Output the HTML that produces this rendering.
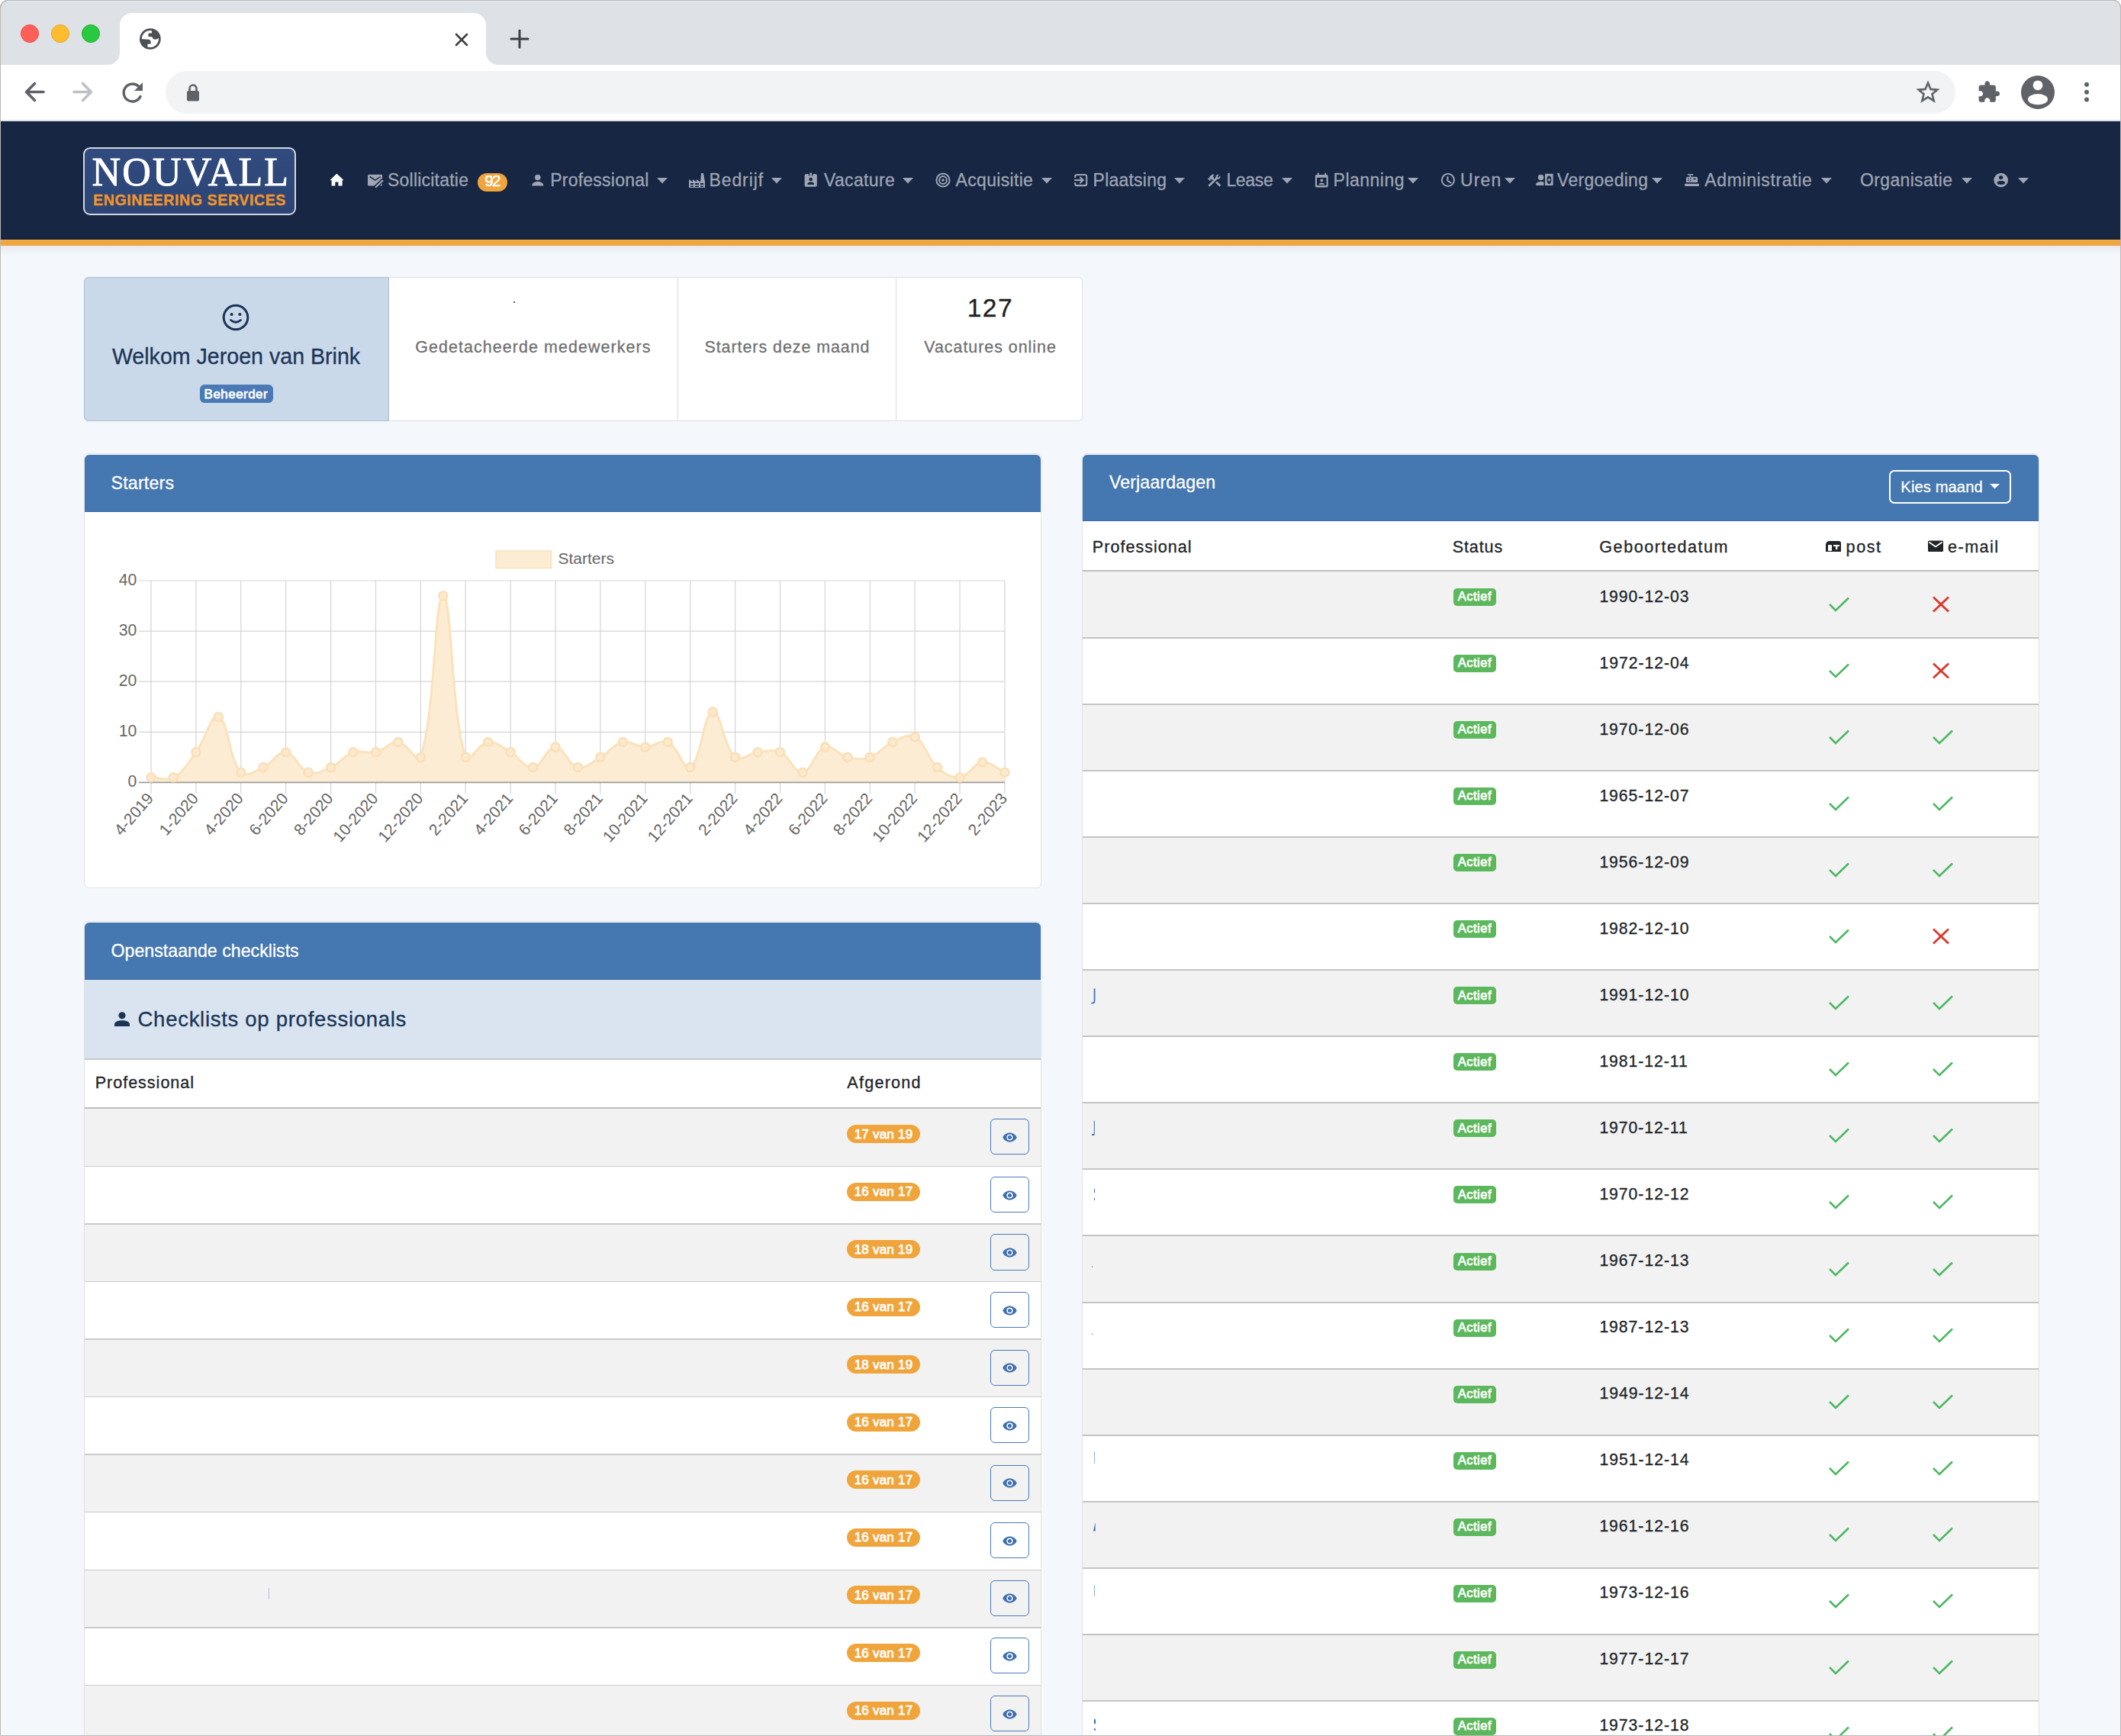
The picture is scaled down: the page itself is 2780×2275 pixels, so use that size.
<!DOCTYPE html>
<html><head><meta charset="utf-8"><title>Nouvall</title>
<style>
html,body{margin:0;padding:0;background:#fff;}
body{width:2780px;height:2275px;position:relative;overflow:hidden;font-family:"Liberation Sans",Arial,sans-serif;}
.r{position:absolute;display:block;}
.t{position:absolute;white-space:nowrap;line-height:1;-webkit-text-stroke:0.3px currentColor;}
svg.r{overflow:visible;}
</style></head><body>
<div class="r" style="left:0;top:0;width:2780px;height:2275px;background:#f4f7fb;border-radius:10px 10px 0 0;overflow:hidden;box-shadow:inset 0 0 0 1px #b9b9b9;">
</div>
<div class="r" style="left:0px;top:0px;width:2780px;height:85px;background:#dee1e6;border-radius:10px 10px 0 0;box-shadow:inset 1px 1px 0 #b9b9b9, inset -1px 0 0 #b9b9b9;"></div>
<div class="r" style="left:9px;top:1px;width:2762px;height:1px;background:#eceef2;"></div>
<svg class="r" style="left:26px;top:31px;" width="26" height="26" viewBox="0 0 26 26"><circle cx="13" cy="13" r="11.6" fill="#ff5f57" stroke="#e2463f" stroke-width="0.8"/></svg>
<svg class="r" style="left:66px;top:31px;" width="26" height="26" viewBox="0 0 26 26"><circle cx="13" cy="13" r="11.6" fill="#febc2e" stroke="#e1a116" stroke-width="0.8"/></svg>
<svg class="r" style="left:106px;top:31px;" width="26" height="26" viewBox="0 0 26 26"><circle cx="13" cy="13" r="11.6" fill="#28c840" stroke="#1aab29" stroke-width="0.8"/></svg>
<div class="r" style="left:157px;top:17px;width:480px;height:68px;background:#fff;border-radius:16px 16px 0 0;"></div>
<div class="r" style="left:141px;top:69px;width:16px;height:16px;background:radial-gradient(circle at 0 0, #dee1e6 15.5px, #fff 16.5px);"></div>
<div class="r" style="left:637px;top:69px;width:16px;height:16px;background:radial-gradient(circle at 100% 0, #dee1e6 15.5px, #fff 16.5px);"></div>
<svg class="r" style="left:183px;top:37px;" width="28" height="28" viewBox="0 0 28 28"><defs><clipPath id="gc"><circle cx="13.9" cy="14" r="13.8"/></clipPath></defs><circle cx="13.9" cy="14" r="13.8" fill="#4d5055"/><circle cx="13.9" cy="14" r="11.05" fill="#fff"/><g clip-path="url(#gc)" fill="#4d5055"><path d="M15.95,0 L15.95,5.9 Q15.95,6.5 15.2,6.5 L12.9,6.5 Q11.4,6.6 11.4,8.1 L11.4,11.1 L15.6,11.3 Q16.9,11.5 17.1,13 Q17.6,14.9 20.5,14.8 Q23,14.7 25.6,12.2 L28,0 Z"/><path d="M0,14.05 L12.1,14.8 Q14.7,15.3 14.7,17.9 L14.7,20.6 L10.4,20.8 L10.4,28 L0,28 Z"/></g></svg>
<svg class="r" style="left:596px;top:43px;" width="18" height="18" viewBox="0 0 18 18"><path d="M2,2 L16,16 M16,2 L2,16" stroke="#3c4043" stroke-width="2.6" stroke-linecap="round"/></svg>
<svg class="r" style="left:668px;top:38px;" width="26" height="26" viewBox="0 0 26 26"><path d="M13,2 V24 M2,13 H24" stroke="#3c4043" stroke-width="3" stroke-linecap="round"/></svg>
<div class="r" style="left:0px;top:85px;width:2780px;height:72px;background:#fff;box-shadow:inset 1px 0 0 #b9b9b9, inset -1px 0 0 #b9b9b9;"></div>
<div class="r" style="left:0px;top:157px;width:2780px;height:1px;background:#dcdde1;"></div>
<div class="r" style="left:0px;top:158px;width:2780px;height:1px;background:#e6e7ea;"></div>
<svg class="r" style="left:31px;top:107px;" width="28" height="28" viewBox="0 0 28 28"><path d="M26,13.5 H4 M14.5,2.5 L3.5,13.5 L14.5,24.5" fill="none" stroke="#5f6368" stroke-width="3.6" stroke-linecap="round" stroke-linejoin="round"/></svg>
<svg class="r" style="left:95px;top:107px;" width="28" height="28" viewBox="0 0 28 28"><path d="M2,13.5 H24 M13.5,2.5 L24.5,13.5 L13.5,24.5" fill="none" stroke="#bdc1c6" stroke-width="3.6" stroke-linecap="round" stroke-linejoin="round"/></svg>
<svg class="r" style="left:158px;top:106px;" width="32" height="30" viewBox="0 0 32 30"><path d="M26,20.5 A11.5,11.5 0 1 1 24,7.5" fill="none" stroke="#5f6368" stroke-width="3.4" stroke-linecap="round"/><path d="M29,2 V13 H18Z" fill="#5f6368"/></svg>
<div class="r" style="left:217px;top:93px;width:2346px;height:56px;background:#f1f3f4;border-radius:28px;"></div>
<svg class="r" style="left:244px;top:109px;" width="18" height="25" viewBox="0 0 18 25"><path d="M4.5,11 V7 A4.5,4.5 0 0 1 13.5,7 V11" fill="none" stroke="#5f6368" stroke-width="2.6"/><rect x="1" y="10" width="16" height="13.5" rx="1.8" fill="#5f6368"/></svg>
<svg class="r" style="left:2512px;top:106px;" width="30" height="30" viewBox="0 0 30 30"><path d="M15,2.6 L18.5,10.9 L27.3,11.6 L20.5,17.3 L22.7,26.2 L15,21.4 L7.3,26.2 L9.5,17.3 L2.7,11.6 L11.5,10.9Z" fill="none" stroke="#5f6368" stroke-width="2.6" stroke-linejoin="miter"/></svg>
<svg class="r" style="left:2591.3px;top:104.9px;" width="32" height="32" viewBox="0 0 32 32"><path transform="scale(1.31)" d="M20.5 11H19V7c0-1.1-.9-2-2-2h-4V3.5C13 2.12 11.88 1 10.5 1S8 2.12 8 3.5V5H4c-1.1 0-1.99.9-1.99 2v3.8H3.5c1.49 0 2.7 1.21 2.7 2.7s-1.21 2.7-2.7 2.7H2V20c0 1.1.9 2 2 2h3.8v-1.5c0-1.49 1.21-2.7 2.7-2.7 1.49 0 2.7 1.21 2.7 2.7V22H17c1.1 0 2-.9 2-2v-4h1.5c1.38 0 2.5-1.12 2.5-2.5S21.88 11 20.5 11z" fill="#5f6368"/></svg>
<svg class="r" style="left:2649px;top:99px;" width="44" height="44" viewBox="0 0 44 44"><circle cx="22" cy="22" r="22" fill="#5f6368"/><circle cx="22" cy="12.8" r="6.4" fill="#fff"/><ellipse cx="22" cy="31.2" rx="13" ry="7.1" fill="#fff"/></svg>
<svg class="r" style="left:2730px;top:105px;" width="10" height="32" viewBox="0 0 10 32"><circle cx="5" cy="5.8" r="3" fill="#5f6368"/><circle cx="5" cy="15.7" r="3" fill="#5f6368"/><circle cx="5" cy="25.6" r="3" fill="#5f6368"/></svg>
<div class="r" style="left:0px;top:159px;width:2780px;height:155px;background:#172642;"></div>
<div class="r" style="left:0px;top:159px;width:2780px;height:1px;background:#0e1c39;"></div>
<div class="r" style="left:0px;top:313px;width:2780px;height:1px;background:#0f1d38;"></div>
<div class="r" style="left:0px;top:314px;width:2780px;height:8px;background:linear-gradient(#f8ad40,#f0a63f 30%,#f0a63f 75%,#ee9f35);"></div>
<div class="r" style="left:0px;top:322px;width:2780px;height:12px;background:linear-gradient(rgba(40,50,70,0.07),rgba(40,50,70,0));"></div>
<div class="r" style="left:109px;top:193px;width:279px;height:89px;background:linear-gradient(#314b80,#2c4575);border:2px solid #d3d7df;border-radius:9px;box-sizing:border-box;"></div>
<div class="t" style="left:120.44px;top:200.05px;font-size:52px;color:#ffffff;font-weight:400;font-family:'Liberation Serif', 'Times New Roman', serif;letter-spacing:2.178px;-webkit-text-stroke:0.9px #fff;">NOUVALL</div>
<div class="t" style="left:122.01px;top:252.50px;font-size:19.6px;color:#f3952b;font-weight:700;font-family:'Liberation Sans', Arial, sans-serif;letter-spacing:0.580px;">ENGINEERING SERVICES</div>
<svg class="r" style="left:432px;top:227px;" width="20" height="18" viewBox="0 0 20 18"><path d="M0.3,9.3 L9.4,0.6 L18.6,9.3 H16.6 V16.6 H11.4 V11.4 H7.4 V16.6 H2.6 V9.3Z" fill="#fff"/></svg>
<svg class="r" style="left:481px;top:228px;" width="22" height="19" viewBox="0 0 22 19"><rect x="1" y="0.7" width="19.1" height="14.9" rx="1.6" fill="#9ea5b4"/><path d="M3.6,3.5 L10.8,8.2 L17.8,3.5" fill="none" stroke="#172642" stroke-width="1.5"/><path d="M11.5,17.2 L20.5,8.6" stroke="#172642" stroke-width="5.2" stroke-linecap="round"/><path d="M11.8,17 L20.3,8.9" stroke="#9ea5b4" stroke-width="2.4" stroke-linecap="round"/></svg>
<div class="t" style="left:507.96px;top:225.02px;font-size:23.0px;color:#9ea5b4;font-weight:400;font-family:'Liberation Sans', Arial, sans-serif;letter-spacing:0.227px;">Sollicitatie</div>
<div class="r" style="left:626px;top:226.5px;width:39px;height:24.0px;background:#f0a53c;border-radius:12px;"></div>
<div class="t" style="left:635.16px;top:227.24px;font-size:20.5px;color:#fff;font-weight:400;font-family:'Liberation Sans', Arial, sans-serif;letter-spacing:-1.628px;-webkit-text-stroke:0.5px #fff;">92</div>
<svg class="r" style="left:696px;top:228px;" width="18" height="17" viewBox="0 0 18 17"><circle cx="8.8" cy="4.5" r="3.8" fill="#9ea5b4"/><path d="M1.2,15.4 C1.2,11.6 5,10 8.8,10 C12.6,10 16.4,11.6 16.4,15.4Z" fill="#9ea5b4"/></svg>
<div class="t" style="left:721.31px;top:225.02px;font-size:23.0px;color:#9ea5b4;font-weight:400;font-family:'Liberation Sans', Arial, sans-serif;letter-spacing:0.221px;">Professional</div>
<svg class="r" style="left:861px;top:233px;" width="14" height="8" viewBox="0 0 14 8"><path d="M0,0 H14 L7,7.5Z" fill="#9ea5b4"/></svg>
<svg class="r" style="left:903px;top:227px;" width="21" height="19" viewBox="0 0 21 19"><path d="M0,19 V8 L5,11.5 V8 L10,11.5 V8 L15,11.5 L16,0 H19 L21,11.5 V19Z M2,13 V15 H6 V13Z M8,13 V15 H13 V13Z M15,13 V15 H19 V13Z M2,16.5 V18 H6 V16.5Z M8,16.5 V18 H13 V16.5Z M15,16.5 V18 H19 V16.5Z" fill="#9ea5b4" fill-rule="evenodd"/></svg>
<div class="t" style="left:929.51px;top:225.02px;font-size:23.0px;color:#9ea5b4;font-weight:400;font-family:'Liberation Sans', Arial, sans-serif;letter-spacing:0.889px;">Bedrijf</div>
<svg class="r" style="left:1010.5px;top:233px;" width="14" height="8" viewBox="0 0 14 8"><path d="M0,0 H14 L7,7.5Z" fill="#9ea5b4"/></svg>
<svg class="r" style="left:1054px;top:226px;" width="19" height="20" viewBox="0 0 19 20"><path d="M2.6,2 H5.8 V4.2 H11.6 V2 H14.8 A2,2 0 0 1 16.8,4 V16.8 A2,2 0 0 1 14.8,18.8 H2.6 A2,2 0 0 1 0.6,16.8 V4 A2,2 0 0 1 2.6,2Z" fill="#9ea5b4"/><rect x="7.3" y="0.4" width="2.8" height="3.6" rx="0.6" fill="#9ea5b4"/><circle cx="8.7" cy="9" r="2.3" fill="#172642"/><path d="M4.5,16 V15 C4.5,13.1 7.2,12.5 8.7,12.5 C10.2,12.5 12.9,13.1 12.9,15 V16Z" fill="#172642"/></svg>
<div class="t" style="left:1079.91px;top:225.02px;font-size:23.0px;color:#9ea5b4;font-weight:400;font-family:'Liberation Sans', Arial, sans-serif;letter-spacing:0.366px;">Vacature</div>
<svg class="r" style="left:1183px;top:233px;" width="14" height="8" viewBox="0 0 14 8"><path d="M0,0 H14 L7,7.5Z" fill="#9ea5b4"/></svg>
<svg class="r" style="left:1226px;top:226px;" width="20" height="20" viewBox="0 0 20 20"><circle cx="10" cy="10" r="8.6" fill="none" stroke="#9ea5b4" stroke-width="2"/><circle cx="10" cy="10" r="4.9" fill="none" stroke="#9ea5b4" stroke-width="2"/><circle cx="10" cy="10" r="1.8" fill="#9ea5b4"/></svg>
<div class="t" style="left:1252.55px;top:225.02px;font-size:23.0px;color:#9ea5b4;font-weight:400;font-family:'Liberation Sans', Arial, sans-serif;letter-spacing:0.324px;">Acquisitie</div>
<svg class="r" style="left:1364.5px;top:233px;" width="14" height="8" viewBox="0 0 14 8"><path d="M0,0 H14 L7,7.5Z" fill="#9ea5b4"/></svg>
<svg class="r" style="left:1407px;top:227px;" width="19" height="19" viewBox="0 0 19 19"><path d="M2.15,6.1 V4.5 Q2.15,2.05 4.6,2.05 H14.8 Q17.25,2.05 17.25,4.5 V13.7 Q17.25,16.15 14.8,16.15 H4.6 Q2.15,16.15 2.15,13.7 V12.1" fill="none" stroke="#9ea5b4" stroke-width="2.1"/><path d="M1.1,9.05 H12" fill="none" stroke="#9ea5b4" stroke-width="2.1"/><path d="M9,5.6 L12.6,9.05 L9,12.5" fill="none" stroke="#9ea5b4" stroke-width="2.2" stroke-linecap="round"/></svg>
<div class="t" style="left:1432.61px;top:225.02px;font-size:23.0px;color:#9ea5b4;font-weight:400;font-family:'Liberation Sans', Arial, sans-serif;letter-spacing:0.217px;">Plaatsing</div>
<svg class="r" style="left:1539px;top:233px;" width="14" height="8" viewBox="0 0 14 8"><path d="M0,0 H14 L7,7.5Z" fill="#9ea5b4"/></svg>
<svg class="r" style="left:1580.8px;top:225.7px;" width="22" height="22" viewBox="0 0 22 22"><path transform="scale(0.88)" d="M13.78 15.3L19.78 21.3L21.89 19.14L15.89 13.14L13.78 15.3M17.5 10.1C17.11 10.1 16.69 10.05 16.36 9.91L4.97 21.25L2.86 19.14L10.27 11.74L8.5 9.96L7.78 10.66L6.33 9.25V12.11L5.63 12.81L2.11 9.25L2.81 8.55H5.62L4.22 7.14L7.78 3.58C8.95 2.41 10.83 2.41 12 3.58L9.89 5.74L11.3 7.14L10.59 7.850L12.38 9.63L14.2 7.75C14.06 7.42 14 7 14 6.63C14 4.66 15.56 3.11 17.5 3.11C18.09 3.11 18.61 3.250 19.08 3.53L16.41 6.2L17.91 7.7L20.58 5.03C20.86 5.5 21 6 21 6.63C21 8.55 19.45 10.1 17.5 10.1Z" fill="#9ea5b4"/></svg>
<div class="t" style="left:1607.41px;top:225.02px;font-size:23.0px;color:#9ea5b4;font-weight:400;font-family:'Liberation Sans', Arial, sans-serif;letter-spacing:-0.338px;">Lease</div>
<svg class="r" style="left:1679.5px;top:233px;" width="14" height="8" viewBox="0 0 14 8"><path d="M0,0 H14 L7,7.5Z" fill="#9ea5b4"/></svg>
<svg class="r" style="left:1722px;top:225px;" width="21" height="22" viewBox="0 0 21 22"><path d="M3.9,4 H16.7 A2,2 0 0 1 18.7,6 V18.4 A2,2 0 0 1 16.7,20.4 H3.9 A2,2 0 0 1 1.9,18.4 V6 A2,2 0 0 1 3.9,4Z M4,7.8 V18.1 H16.6 V7.8Z" fill="#9ea5b4" fill-rule="evenodd"/><rect x="4.8" y="1.4" width="1.9" height="3.5" rx="0.9" fill="#9ea5b4"/><rect x="14.2" y="1.4" width="1.9" height="3.5" rx="0.9" fill="#9ea5b4"/><circle cx="10.3" cy="11.4" r="1.9" fill="#9ea5b4"/><path d="M6.6,17 C6.6,15.3 8.7,14.8 10.3,14.8 C11.9,14.8 14.1,15.3 14.1,17Z" fill="#9ea5b4"/></svg>
<div class="t" style="left:1747.61px;top:225.02px;font-size:23.0px;color:#9ea5b4;font-weight:400;font-family:'Liberation Sans', Arial, sans-serif;letter-spacing:0.477px;">Planning</div>
<svg class="r" style="left:1844.5px;top:233px;" width="14" height="8" viewBox="0 0 14 8"><path d="M0,0 H14 L7,7.5Z" fill="#9ea5b4"/></svg>
<svg class="r" style="left:1887px;top:226px;" width="22" height="22" viewBox="0 0 22 22"><circle cx="10.9" cy="9.9" r="8.1" fill="none" stroke="#9ea5b4" stroke-width="2"/><path d="M10.4,5.9 V11 L14.5,13.4" fill="none" stroke="#9ea5b4" stroke-width="2" stroke-linecap="round" stroke-linejoin="round"/></svg>
<div class="t" style="left:1913.93px;top:225.02px;font-size:23.0px;color:#9ea5b4;font-weight:400;font-family:'Liberation Sans', Arial, sans-serif;letter-spacing:1.134px;">Uren</div>
<svg class="r" style="left:1972px;top:233px;" width="14" height="8" viewBox="0 0 14 8"><path d="M0,0 H14 L7,7.5Z" fill="#9ea5b4"/></svg>
<svg class="r" style="left:2012px;top:226px;" width="25" height="19" viewBox="0 0 25 19"><circle cx="7.6" cy="6.5" r="3.8" fill="#9ea5b4"/><path d="M1.2,17.1 V15.6 C1.2,13.2 4.8,12.1 7.6,12.1 C9.3,12.1 11.5,12.3 11.5,13 V17.1Z" fill="#9ea5b4"/><path d="M13.1,1.8 H23.6 V17.1 H13.1Z M18.4,4.2 A3,5.5 0 1 0 18.4,15.2 A3,5.5 0 1 0 18.4,4.2Z" fill="#9ea5b4" fill-rule="evenodd"/><path d="M18.4,7.4 L20.4,9.7 L18.4,12 L16.4,9.7Z" fill="#9ea5b4"/></svg>
<div class="t" style="left:2041.11px;top:225.02px;font-size:23.0px;color:#9ea5b4;font-weight:400;font-family:'Liberation Sans', Arial, sans-serif;letter-spacing:0.276px;">Vergoeding</div>
<svg class="r" style="left:2165px;top:233px;" width="14" height="8" viewBox="0 0 14 8"><path d="M0,0 H14 L7,7.5Z" fill="#9ea5b4"/></svg>
<svg class="r" style="left:2207px;top:226px;" width="21" height="19" viewBox="0 0 21 19"><rect x="1.2" y="14.7" width="18.7" height="3.4" rx="0.5" fill="#9ea5b4"/><path d="M3,12.9 V7.7 Q3,5.7 5,5.7 H16.1 Q18.1,5.7 18.1,7.7 V12.9Z" fill="#9ea5b4"/><rect x="5" y="2" width="7.5" height="1.7" rx="0.8" fill="#9ea5b4"/><path d="M7.3,5.9 L8.5,3.4 L9.7,5.9Z" fill="#9ea5b4"/><g fill="#2a3752"><rect x="5.2" y="7.2" width="1.6" height="1.4"/><rect x="8.2" y="7.2" width="1.6" height="1.4"/><rect x="5.2" y="9.9" width="1.6" height="1.6"/><rect x="8.2" y="9.9" width="1.6" height="1.6"/></g><ellipse cx="14" cy="8.6" rx="2" ry="0.8" fill="#172642"/></svg>
<div class="t" style="left:2234.25px;top:225.02px;font-size:23.0px;color:#9ea5b4;font-weight:400;font-family:'Liberation Sans', Arial, sans-serif;letter-spacing:0.626px;">Administratie</div>
<svg class="r" style="left:2386.5px;top:233px;" width="14" height="8" viewBox="0 0 14 8"><path d="M0,0 H14 L7,7.5Z" fill="#9ea5b4"/></svg>
<div class="t" style="left:2438.12px;top:225.02px;font-size:23.0px;color:#9ea5b4;font-weight:400;font-family:'Liberation Sans', Arial, sans-serif;letter-spacing:0.327px;">Organisatie</div>
<svg class="r" style="left:2570.5px;top:233px;" width="14" height="8" viewBox="0 0 14 8"><path d="M0,0 H14 L7,7.5Z" fill="#9ea5b4"/></svg>
<svg class="r" style="left:2612px;top:226px;" width="21" height="21" viewBox="0 0 21 21"><circle cx="10.7" cy="10" r="9.3" fill="#9ea5b4"/><circle cx="10.6" cy="6.5" r="2.6" fill="#172642"/><ellipse cx="10.8" cy="13.6" rx="5.2" ry="2.5" fill="#172642"/></svg>
<svg class="r" style="left:2645px;top:233px;" width="14" height="8" viewBox="0 0 14 8"><path d="M0,0 H14 L7,7.5Z" fill="#9ea5b4"/></svg>
<div class="r" style="left:110px;top:363px;width:1309px;height:189px;background:#fff;border:1px solid #dcdfe3;border-radius:6px;box-sizing:border-box;"></div>
<div class="r" style="left:110px;top:363px;width:400px;height:189px;background:#cad9e9;border:1px solid #adbfd5;border-radius:6px 0 0 6px;box-sizing:border-box;"></div>
<div class="r" style="left:888px;top:364px;width:1px;height:187px;background:#dcdcdc;"></div>
<div class="r" style="left:1174px;top:364px;width:1px;height:187px;background:#dcdcdc;"></div>
<svg class="r" style="left:291px;top:398px;" width="36" height="36" viewBox="0 0 36 36"><circle cx="18" cy="18" r="15.8" fill="none" stroke="#1b3558" stroke-width="3"/><circle cx="12.6" cy="14" r="2.1" fill="#1b3558"/><circle cx="23.4" cy="14" r="2.1" fill="#1b3558"/><path d="M11.5,21.5 Q18,27 24.5,21.5" fill="none" stroke="#1b3558" stroke-width="2.8" stroke-linecap="round"/></svg>
<div class="t" style="left:146.89px;top:452.78px;font-size:28.6px;color:#1c3557;font-weight:400;font-family:'Liberation Sans', Arial, sans-serif;letter-spacing:0.001px;">Welkom Jeroen van Brink</div>
<div class="r" style="left:261.5px;top:503.5px;width:96.5px;height:24.0px;background:#4a79b5;border-radius:6px;"></div>
<div class="t" style="left:267.61px;top:507.50px;font-size:17px;color:#fff;font-weight:400;font-family:'Liberation Sans', Arial, sans-serif;letter-spacing:0.459px;-webkit-text-stroke:0.75px #fff;">Beheerder</div>
<div class="r" style="left:672.5px;top:394.5px;width:2.5px;height:2.5px;background:#222;border-radius:50%;"></div>
<div class="t" style="left:544.23px;top:444.57px;font-size:21.4px;color:#717171;font-weight:400;font-family:'Liberation Sans', Arial, sans-serif;letter-spacing:1.097px;">Gedetacheerde medewerkers</div>
<div class="t" style="left:923.44px;top:444.57px;font-size:21.4px;color:#717171;font-weight:400;font-family:'Liberation Sans', Arial, sans-serif;letter-spacing:0.971px;">Starters deze maand</div>
<div class="t" style="left:1267.65px;top:386.54px;font-size:33.6px;color:#212121;font-weight:400;font-family:'Liberation Sans', Arial, sans-serif;letter-spacing:1.444px;">127</div>
<div class="t" style="left:1211.31px;top:444.57px;font-size:21.4px;color:#717171;font-weight:400;font-family:'Liberation Sans', Arial, sans-serif;letter-spacing:0.987px;">Vacatures online</div>
<div class="r" style="left:110px;top:594px;width:1255px;height:570px;background:#fff;border:1px solid #dfe2e6;border-radius:7px;box-sizing:border-box;"></div>
<div class="r" style="left:111px;top:596px;width:1253px;height:75px;background:#4577b1;border-radius:6px 6px 0 0;border-bottom:1px solid #3c6aa3;box-sizing:border-box;"></div>
<div class="t" style="left:145.46px;top:621.85px;font-size:23.2px;color:#fff;font-weight:400;font-family:'Liberation Sans', Arial, sans-serif;letter-spacing:0.208px;">Starters</div>
<svg class="r" style="left:0px;top:0px;" width="1400" height="1160" viewBox="0 0 1400 1160"><line x1="182.0" y1="959.3" x2="1317.0" y2="959.3" stroke="#d5d5d5" stroke-width="1.2"/><line x1="182.0" y1="893.2" x2="1317.0" y2="893.2" stroke="#d5d5d5" stroke-width="1.2"/><line x1="182.0" y1="827.1" x2="1317.0" y2="827.1" stroke="#d5d5d5" stroke-width="1.2"/><line x1="182.0" y1="761.0" x2="1317.0" y2="761.0" stroke="#d5d5d5" stroke-width="1.2"/><line x1="198.0" y1="761.0" x2="198.0" y2="1025.4" stroke="#d2d2d2" stroke-width="1.2"/><line x1="198.0" y1="1025.4" x2="198.0" y2="1040.4" stroke="#d5d5d5" stroke-width="1.2"/><line x1="256.9" y1="761.0" x2="256.9" y2="1025.4" stroke="#d5d5d5" stroke-width="1.2"/><line x1="256.9" y1="1025.4" x2="256.9" y2="1040.4" stroke="#d5d5d5" stroke-width="1.2"/><line x1="315.8" y1="761.0" x2="315.8" y2="1025.4" stroke="#d5d5d5" stroke-width="1.2"/><line x1="315.8" y1="1025.4" x2="315.8" y2="1040.4" stroke="#d5d5d5" stroke-width="1.2"/><line x1="374.7" y1="761.0" x2="374.7" y2="1025.4" stroke="#d5d5d5" stroke-width="1.2"/><line x1="374.7" y1="1025.4" x2="374.7" y2="1040.4" stroke="#d5d5d5" stroke-width="1.2"/><line x1="433.6" y1="761.0" x2="433.6" y2="1025.4" stroke="#d5d5d5" stroke-width="1.2"/><line x1="433.6" y1="1025.4" x2="433.6" y2="1040.4" stroke="#d5d5d5" stroke-width="1.2"/><line x1="492.5" y1="761.0" x2="492.5" y2="1025.4" stroke="#d5d5d5" stroke-width="1.2"/><line x1="492.5" y1="1025.4" x2="492.5" y2="1040.4" stroke="#d5d5d5" stroke-width="1.2"/><line x1="551.4" y1="761.0" x2="551.4" y2="1025.4" stroke="#d5d5d5" stroke-width="1.2"/><line x1="551.4" y1="1025.4" x2="551.4" y2="1040.4" stroke="#d5d5d5" stroke-width="1.2"/><line x1="610.3" y1="761.0" x2="610.3" y2="1025.4" stroke="#d5d5d5" stroke-width="1.2"/><line x1="610.3" y1="1025.4" x2="610.3" y2="1040.4" stroke="#d5d5d5" stroke-width="1.2"/><line x1="669.2" y1="761.0" x2="669.2" y2="1025.4" stroke="#d5d5d5" stroke-width="1.2"/><line x1="669.2" y1="1025.4" x2="669.2" y2="1040.4" stroke="#d5d5d5" stroke-width="1.2"/><line x1="728.1" y1="761.0" x2="728.1" y2="1025.4" stroke="#d5d5d5" stroke-width="1.2"/><line x1="728.1" y1="1025.4" x2="728.1" y2="1040.4" stroke="#d5d5d5" stroke-width="1.2"/><line x1="786.9" y1="761.0" x2="786.9" y2="1025.4" stroke="#d5d5d5" stroke-width="1.2"/><line x1="786.9" y1="1025.4" x2="786.9" y2="1040.4" stroke="#d5d5d5" stroke-width="1.2"/><line x1="845.8" y1="761.0" x2="845.8" y2="1025.4" stroke="#d5d5d5" stroke-width="1.2"/><line x1="845.8" y1="1025.4" x2="845.8" y2="1040.4" stroke="#d5d5d5" stroke-width="1.2"/><line x1="904.7" y1="761.0" x2="904.7" y2="1025.4" stroke="#d5d5d5" stroke-width="1.2"/><line x1="904.7" y1="1025.4" x2="904.7" y2="1040.4" stroke="#d5d5d5" stroke-width="1.2"/><line x1="963.6" y1="761.0" x2="963.6" y2="1025.4" stroke="#d5d5d5" stroke-width="1.2"/><line x1="963.6" y1="1025.4" x2="963.6" y2="1040.4" stroke="#d5d5d5" stroke-width="1.2"/><line x1="1022.5" y1="761.0" x2="1022.5" y2="1025.4" stroke="#d5d5d5" stroke-width="1.2"/><line x1="1022.5" y1="1025.4" x2="1022.5" y2="1040.4" stroke="#d5d5d5" stroke-width="1.2"/><line x1="1081.4" y1="761.0" x2="1081.4" y2="1025.4" stroke="#d5d5d5" stroke-width="1.2"/><line x1="1081.4" y1="1025.4" x2="1081.4" y2="1040.4" stroke="#d5d5d5" stroke-width="1.2"/><line x1="1140.3" y1="761.0" x2="1140.3" y2="1025.4" stroke="#d5d5d5" stroke-width="1.2"/><line x1="1140.3" y1="1025.4" x2="1140.3" y2="1040.4" stroke="#d5d5d5" stroke-width="1.2"/><line x1="1199.2" y1="761.0" x2="1199.2" y2="1025.4" stroke="#d5d5d5" stroke-width="1.2"/><line x1="1199.2" y1="1025.4" x2="1199.2" y2="1040.4" stroke="#d5d5d5" stroke-width="1.2"/><line x1="1258.1" y1="761.0" x2="1258.1" y2="1025.4" stroke="#d5d5d5" stroke-width="1.2"/><line x1="1258.1" y1="1025.4" x2="1258.1" y2="1040.4" stroke="#d5d5d5" stroke-width="1.2"/><line x1="1317.0" y1="761.0" x2="1317.0" y2="1025.4" stroke="#d5d5d5" stroke-width="1.2"/><line x1="1317.0" y1="1025.4" x2="1317.0" y2="1040.4" stroke="#d5d5d5" stroke-width="1.2"/><path d="M198.00,1018.79 C209.78,1018.79 218.04,1024.07 227.45,1018.79 C241.59,1010.85 246.37,999.91 256.89,985.74 C269.93,968.18 276.65,935.12 286.34,939.47 C300.21,945.69 298.78,993.09 315.79,1012.18 C322.33,1019.53 334.41,1010.43 345.24,1005.57 C357.97,999.85 363.54,984.49 374.68,985.74 C387.10,987.13 390.77,1007.68 404.13,1012.18 C414.32,1015.61 422.75,1010.43 433.58,1005.57 C446.31,999.85 450.15,990.08 463.03,985.74 C473.71,982.14 481.24,988.26 492.47,985.74 C504.79,982.97 510.70,971.26 521.92,972.52 C534.26,973.90 548.01,1003.28 551.37,992.35 C571.57,926.60 569.04,780.83 580.82,780.83 C592.59,780.83 590.06,926.60 610.26,992.35 C613.62,1003.28 627.37,973.90 639.71,972.52 C650.93,971.26 657.94,979.44 669.16,985.74 C681.50,992.66 687.47,1006.82 698.61,1005.57 C711.02,1004.18 716.27,979.13 728.05,979.13 C739.83,979.13 744.52,1002.66 757.50,1005.57 C768.08,1007.95 775.73,998.65 786.95,992.35 C799.29,985.43 803.66,975.38 816.39,972.52 C827.22,970.09 834.06,979.13 845.84,979.13 C857.62,979.13 865.74,968.23 875.29,972.52 C889.30,978.81 896.24,1011.29 904.74,1005.57 C919.80,995.43 921.42,935.72 934.18,932.86 C944.98,930.44 947.44,977.81 963.63,992.35 C970.99,998.96 981.16,987.08 993.08,985.74 C1004.71,984.43 1012.48,981.23 1022.53,985.74 C1036.03,991.80 1040.85,1013.43 1051.97,1012.18 C1064.41,1010.78 1067.80,983.72 1081.42,979.13 C1091.36,975.79 1098.55,989.58 1110.87,992.35 C1122.11,994.87 1129.63,995.95 1140.32,992.35 C1153.19,988.01 1157.03,978.24 1169.76,972.52 C1180.59,967.66 1190.28,960.90 1199.21,965.91 C1213.83,974.12 1214.41,992.78 1228.66,1005.57 C1237.97,1013.93 1246.89,1020.05 1258.11,1018.79 C1270.44,1017.41 1275.21,1000.34 1287.55,998.96 C1298.77,997.70 1305.22,1006.89 1317.00,1012.18 L1317.00,1025.40 L198.00,1025.40 Z" fill="#fcecd3"/><line x1="182.0" y1="1025.4" x2="1317.0" y2="1025.4" stroke="#9c9c9c" stroke-width="1.8"/><path d="M198.00,1018.79 C209.78,1018.79 218.04,1024.07 227.45,1018.79 C241.59,1010.85 246.37,999.91 256.89,985.74 C269.93,968.18 276.65,935.12 286.34,939.47 C300.21,945.69 298.78,993.09 315.79,1012.18 C322.33,1019.53 334.41,1010.43 345.24,1005.57 C357.97,999.85 363.54,984.49 374.68,985.74 C387.10,987.13 390.77,1007.68 404.13,1012.18 C414.32,1015.61 422.75,1010.43 433.58,1005.57 C446.31,999.85 450.15,990.08 463.03,985.74 C473.71,982.14 481.24,988.26 492.47,985.74 C504.79,982.97 510.70,971.26 521.92,972.52 C534.26,973.90 548.01,1003.28 551.37,992.35 C571.57,926.60 569.04,780.83 580.82,780.83 C592.59,780.83 590.06,926.60 610.26,992.35 C613.62,1003.28 627.37,973.90 639.71,972.52 C650.93,971.26 657.94,979.44 669.16,985.74 C681.50,992.66 687.47,1006.82 698.61,1005.57 C711.02,1004.18 716.27,979.13 728.05,979.13 C739.83,979.13 744.52,1002.66 757.50,1005.57 C768.08,1007.95 775.73,998.65 786.95,992.35 C799.29,985.43 803.66,975.38 816.39,972.52 C827.22,970.09 834.06,979.13 845.84,979.13 C857.62,979.13 865.74,968.23 875.29,972.52 C889.30,978.81 896.24,1011.29 904.74,1005.57 C919.80,995.43 921.42,935.72 934.18,932.86 C944.98,930.44 947.44,977.81 963.63,992.35 C970.99,998.96 981.16,987.08 993.08,985.74 C1004.71,984.43 1012.48,981.23 1022.53,985.74 C1036.03,991.80 1040.85,1013.43 1051.97,1012.18 C1064.41,1010.78 1067.80,983.72 1081.42,979.13 C1091.36,975.79 1098.55,989.58 1110.87,992.35 C1122.11,994.87 1129.63,995.95 1140.32,992.35 C1153.19,988.01 1157.03,978.24 1169.76,972.52 C1180.59,967.66 1190.28,960.90 1199.21,965.91 C1213.83,974.12 1214.41,992.78 1228.66,1005.57 C1237.97,1013.93 1246.89,1020.05 1258.11,1018.79 C1270.44,1017.41 1275.21,1000.34 1287.55,998.96 C1298.77,997.70 1305.22,1006.89 1317.00,1012.18" fill="none" stroke="#fbe2bb" stroke-width="3"/><circle cx="198.0" cy="1018.8" r="5.5" fill="#fcead0" stroke="#fbdfb6" stroke-width="2.6"/><circle cx="227.4" cy="1018.8" r="5.5" fill="#fcead0" stroke="#fbdfb6" stroke-width="2.6"/><circle cx="256.9" cy="985.7" r="5.5" fill="#fcead0" stroke="#fbdfb6" stroke-width="2.6"/><circle cx="286.3" cy="939.5" r="5.5" fill="#fcead0" stroke="#fbdfb6" stroke-width="2.6"/><circle cx="315.8" cy="1012.2" r="5.5" fill="#fcead0" stroke="#fbdfb6" stroke-width="2.6"/><circle cx="345.2" cy="1005.6" r="5.5" fill="#fcead0" stroke="#fbdfb6" stroke-width="2.6"/><circle cx="374.7" cy="985.7" r="5.5" fill="#fcead0" stroke="#fbdfb6" stroke-width="2.6"/><circle cx="404.1" cy="1012.2" r="5.5" fill="#fcead0" stroke="#fbdfb6" stroke-width="2.6"/><circle cx="433.6" cy="1005.6" r="5.5" fill="#fcead0" stroke="#fbdfb6" stroke-width="2.6"/><circle cx="463.0" cy="985.7" r="5.5" fill="#fcead0" stroke="#fbdfb6" stroke-width="2.6"/><circle cx="492.5" cy="985.7" r="5.5" fill="#fcead0" stroke="#fbdfb6" stroke-width="2.6"/><circle cx="521.9" cy="972.5" r="5.5" fill="#fcead0" stroke="#fbdfb6" stroke-width="2.6"/><circle cx="551.4" cy="992.4" r="5.5" fill="#fcead0" stroke="#fbdfb6" stroke-width="2.6"/><circle cx="580.8" cy="780.8" r="5.5" fill="#fcead0" stroke="#fbdfb6" stroke-width="2.6"/><circle cx="610.3" cy="992.4" r="5.5" fill="#fcead0" stroke="#fbdfb6" stroke-width="2.6"/><circle cx="639.7" cy="972.5" r="5.5" fill="#fcead0" stroke="#fbdfb6" stroke-width="2.6"/><circle cx="669.2" cy="985.7" r="5.5" fill="#fcead0" stroke="#fbdfb6" stroke-width="2.6"/><circle cx="698.6" cy="1005.6" r="5.5" fill="#fcead0" stroke="#fbdfb6" stroke-width="2.6"/><circle cx="728.1" cy="979.1" r="5.5" fill="#fcead0" stroke="#fbdfb6" stroke-width="2.6"/><circle cx="757.5" cy="1005.6" r="5.5" fill="#fcead0" stroke="#fbdfb6" stroke-width="2.6"/><circle cx="786.9" cy="992.4" r="5.5" fill="#fcead0" stroke="#fbdfb6" stroke-width="2.6"/><circle cx="816.4" cy="972.5" r="5.5" fill="#fcead0" stroke="#fbdfb6" stroke-width="2.6"/><circle cx="845.8" cy="979.1" r="5.5" fill="#fcead0" stroke="#fbdfb6" stroke-width="2.6"/><circle cx="875.3" cy="972.5" r="5.5" fill="#fcead0" stroke="#fbdfb6" stroke-width="2.6"/><circle cx="904.7" cy="1005.6" r="5.5" fill="#fcead0" stroke="#fbdfb6" stroke-width="2.6"/><circle cx="934.2" cy="932.9" r="5.5" fill="#fcead0" stroke="#fbdfb6" stroke-width="2.6"/><circle cx="963.6" cy="992.4" r="5.5" fill="#fcead0" stroke="#fbdfb6" stroke-width="2.6"/><circle cx="993.1" cy="985.7" r="5.5" fill="#fcead0" stroke="#fbdfb6" stroke-width="2.6"/><circle cx="1022.5" cy="985.7" r="5.5" fill="#fcead0" stroke="#fbdfb6" stroke-width="2.6"/><circle cx="1052.0" cy="1012.2" r="5.5" fill="#fcead0" stroke="#fbdfb6" stroke-width="2.6"/><circle cx="1081.4" cy="979.1" r="5.5" fill="#fcead0" stroke="#fbdfb6" stroke-width="2.6"/><circle cx="1110.9" cy="992.4" r="5.5" fill="#fcead0" stroke="#fbdfb6" stroke-width="2.6"/><circle cx="1140.3" cy="992.4" r="5.5" fill="#fcead0" stroke="#fbdfb6" stroke-width="2.6"/><circle cx="1169.8" cy="972.5" r="5.5" fill="#fcead0" stroke="#fbdfb6" stroke-width="2.6"/><circle cx="1199.2" cy="965.9" r="5.5" fill="#fcead0" stroke="#fbdfb6" stroke-width="2.6"/><circle cx="1228.7" cy="1005.6" r="5.5" fill="#fcead0" stroke="#fbdfb6" stroke-width="2.6"/><circle cx="1258.1" cy="1018.8" r="5.5" fill="#fcead0" stroke="#fbdfb6" stroke-width="2.6"/><circle cx="1287.6" cy="999.0" r="5.5" fill="#fcead0" stroke="#fbdfb6" stroke-width="2.6"/><circle cx="1317.0" cy="1012.2" r="5.5" fill="#fcead0" stroke="#fbdfb6" stroke-width="2.6"/><text x="179.4" y="1031.3" text-anchor="end" font-size="21.2" fill="#666" font-family="Liberation Sans, Arial, sans-serif">0</text><text x="179.4" y="965.2" text-anchor="end" font-size="21.2" fill="#666" font-family="Liberation Sans, Arial, sans-serif">10</text><text x="179.4" y="899.1" text-anchor="end" font-size="21.2" fill="#666" font-family="Liberation Sans, Arial, sans-serif">20</text><text x="179.4" y="833.0" text-anchor="end" font-size="21.2" fill="#666" font-family="Liberation Sans, Arial, sans-serif">30</text><text x="179.4" y="766.9" text-anchor="end" font-size="21.2" fill="#666" font-family="Liberation Sans, Arial, sans-serif">40</text><text transform="translate(196.5,1042) rotate(-49)" text-anchor="end" dominant-baseline="central" font-size="21" fill="#666" font-family="Liberation Sans, Arial, sans-serif">4-2019</text><text transform="translate(255.4,1042) rotate(-49)" text-anchor="end" dominant-baseline="central" font-size="21" fill="#666" font-family="Liberation Sans, Arial, sans-serif">1-2020</text><text transform="translate(314.3,1042) rotate(-49)" text-anchor="end" dominant-baseline="central" font-size="21" fill="#666" font-family="Liberation Sans, Arial, sans-serif">4-2020</text><text transform="translate(373.2,1042) rotate(-49)" text-anchor="end" dominant-baseline="central" font-size="21" fill="#666" font-family="Liberation Sans, Arial, sans-serif">6-2020</text><text transform="translate(432.1,1042) rotate(-49)" text-anchor="end" dominant-baseline="central" font-size="21" fill="#666" font-family="Liberation Sans, Arial, sans-serif">8-2020</text><text transform="translate(491.0,1042) rotate(-49)" text-anchor="end" dominant-baseline="central" font-size="21" fill="#666" font-family="Liberation Sans, Arial, sans-serif">10-2020</text><text transform="translate(549.9,1042) rotate(-49)" text-anchor="end" dominant-baseline="central" font-size="21" fill="#666" font-family="Liberation Sans, Arial, sans-serif">12-2020</text><text transform="translate(608.8,1042) rotate(-49)" text-anchor="end" dominant-baseline="central" font-size="21" fill="#666" font-family="Liberation Sans, Arial, sans-serif">2-2021</text><text transform="translate(667.7,1042) rotate(-49)" text-anchor="end" dominant-baseline="central" font-size="21" fill="#666" font-family="Liberation Sans, Arial, sans-serif">4-2021</text><text transform="translate(726.6,1042) rotate(-49)" text-anchor="end" dominant-baseline="central" font-size="21" fill="#666" font-family="Liberation Sans, Arial, sans-serif">6-2021</text><text transform="translate(785.4,1042) rotate(-49)" text-anchor="end" dominant-baseline="central" font-size="21" fill="#666" font-family="Liberation Sans, Arial, sans-serif">8-2021</text><text transform="translate(844.3,1042) rotate(-49)" text-anchor="end" dominant-baseline="central" font-size="21" fill="#666" font-family="Liberation Sans, Arial, sans-serif">10-2021</text><text transform="translate(903.2,1042) rotate(-49)" text-anchor="end" dominant-baseline="central" font-size="21" fill="#666" font-family="Liberation Sans, Arial, sans-serif">12-2021</text><text transform="translate(962.1,1042) rotate(-49)" text-anchor="end" dominant-baseline="central" font-size="21" fill="#666" font-family="Liberation Sans, Arial, sans-serif">2-2022</text><text transform="translate(1021.0,1042) rotate(-49)" text-anchor="end" dominant-baseline="central" font-size="21" fill="#666" font-family="Liberation Sans, Arial, sans-serif">4-2022</text><text transform="translate(1079.9,1042) rotate(-49)" text-anchor="end" dominant-baseline="central" font-size="21" fill="#666" font-family="Liberation Sans, Arial, sans-serif">6-2022</text><text transform="translate(1138.8,1042) rotate(-49)" text-anchor="end" dominant-baseline="central" font-size="21" fill="#666" font-family="Liberation Sans, Arial, sans-serif">8-2022</text><text transform="translate(1197.7,1042) rotate(-49)" text-anchor="end" dominant-baseline="central" font-size="21" fill="#666" font-family="Liberation Sans, Arial, sans-serif">10-2022</text><text transform="translate(1256.6,1042) rotate(-49)" text-anchor="end" dominant-baseline="central" font-size="21" fill="#666" font-family="Liberation Sans, Arial, sans-serif">12-2022</text><text transform="translate(1315.5,1042) rotate(-49)" text-anchor="end" dominant-baseline="central" font-size="21" fill="#666" font-family="Liberation Sans, Arial, sans-serif">2-2023</text><rect x="650" y="722" width="72.5" height="22.5" fill="#fcecd3" stroke="#fbe0b8" stroke-width="1.5"/><text x="731.5" y="738.7" font-size="21" fill="#666" font-family="Liberation Sans, Arial, sans-serif">Starters</text></svg>
<div class="r" style="left:1418px;top:594px;width:1255px;height:1696px;background:#fff;border:1px solid #dfe2e6;border-radius:7px;box-sizing:border-box;"></div>
<div class="r" style="left:1419px;top:596px;width:1253px;height:87px;background:#4577b1;border-radius:6px 6px 0 0;border-bottom:1px solid #3c6aa3;box-sizing:border-box;"></div>
<div class="t" style="left:1453.91px;top:621.15px;font-size:23.2px;color:#fff;font-weight:400;font-family:'Liberation Sans', Arial, sans-serif;letter-spacing:0.124px;">Verjaardagen</div>
<div class="r" style="left:2476px;top:615.5px;width:160px;height:44.5px;border:2px solid #fff;border-radius:7px;box-sizing:border-box;"></div>
<div class="t" style="left:2491.34px;top:627.59px;font-size:20.2px;color:#fff;font-weight:400;font-family:'Liberation Sans', Arial, sans-serif;letter-spacing:0.086px;">Kies maand</div>
<svg class="r" style="left:2608px;top:634px;" width="13" height="7" viewBox="0 0 13 7"><path d="M0,0 H13 L6.5,6.5Z" fill="#fff"/></svg>
<div class="t" style="left:1431.83px;top:705.90px;font-size:21.6px;color:#212529;font-weight:400;font-family:'Liberation Sans', Arial, sans-serif;letter-spacing:0.994px;">Professional</div>
<div class="t" style="left:1903.63px;top:705.90px;font-size:21.6px;color:#212529;font-weight:400;font-family:'Liberation Sans', Arial, sans-serif;letter-spacing:0.883px;">Status</div>
<div class="t" style="left:2096.32px;top:705.90px;font-size:21.6px;color:#212529;font-weight:400;font-family:'Liberation Sans', Arial, sans-serif;letter-spacing:1.515px;">Geboortedatum</div>
<svg class="r" style="left:2393px;top:708px;" width="20" height="16" viewBox="0 0 20 16"><path d="M5,1 H17 A3,3 0 0 1 20,4 V15 H0 V6 A5,5 0 0 1 5,1Z" fill="#212529"/><rect x="3" y="6" width="5" height="8" rx="1" fill="#fff"/><rect x="10" y="6" width="8" height="2" fill="#fff"/><rect x="13" y="8" width="2.4" height="4" fill="#fff"/></svg>
<div class="t" style="left:2419.62px;top:705.90px;font-size:21.6px;color:#212529;font-weight:400;font-family:'Liberation Sans', Arial, sans-serif;letter-spacing:1.537px;">post</div>
<svg class="r" style="left:2527px;top:708px;" width="20" height="15" viewBox="0 0 20 15"><path d="M1.5,0.5 H18.5 A1.5,1.5 0 0 1 20,2 V13.5 A1.5,1.5 0 0 1 18.5,15 H1.5 A1.5,1.5 0 0 1 0,13.5 V2 A1.5,1.5 0 0 1 1.5,0.5Z" fill="#212529"/><path d="M1.5,2.5 L10,8.5 L18.5,2.5" fill="none" stroke="#fff" stroke-width="1.8"/></svg>
<div class="t" style="left:2553.09px;top:705.90px;font-size:21.6px;color:#212529;font-weight:400;font-family:'Liberation Sans', Arial, sans-serif;letter-spacing:1.443px;">e-mail</div>
<div class="r" style="left:1419px;top:746.6px;width:1253px;height:2.6000000000000227px;background:#c0c0c0;"></div>
<div class="r" style="left:1419px;top:749.2px;width:1253px;height:86.79999999999995px;background:#f2f2f2;"></div>
<div class="r" style="left:1905px;top:771.0px;width:56px;height:23.0px;background:#5cb85c;border-radius:5px;"></div>
<div class="t" style="left:1910.67px;top:774.24px;font-size:16.6px;color:#fff;font-weight:400;font-family:'Liberation Sans', Arial, sans-serif;letter-spacing:0.477px;-webkit-text-stroke:0.75px #fff;">Actief</div>
<div class="t" style="left:2096.39px;top:770.54px;font-size:21.2px;color:#212529;font-weight:400;font-family:'Liberation Sans', Arial, sans-serif;letter-spacing:0.965px;">1990-12-03</div>
<svg class="r" style="left:2396px;top:781.0px;" width="29" height="22" viewBox="0 0 29 22"><path d="M2,11 L10,19 L27,2.5" fill="none" stroke="#4cb862" stroke-width="2.6"/></svg>
<svg class="r" style="left:2532px;top:781.0px;" width="24" height="22" viewBox="0 0 24 22"><path d="M2,1.5 L22,20.5 M22,1.5 L2,20.5" fill="none" stroke="#d9382c" stroke-width="2.8"/></svg>
<div class="r" style="left:1419px;top:836.2px;width:1253px;height:86.89999999999998px;background:#fff;"></div>
<div class="r" style="left:1905px;top:858.0px;width:56px;height:23.0px;background:#5cb85c;border-radius:5px;"></div>
<div class="t" style="left:1910.67px;top:861.29px;font-size:16.6px;color:#fff;font-weight:400;font-family:'Liberation Sans', Arial, sans-serif;letter-spacing:0.477px;-webkit-text-stroke:0.75px #fff;">Actief</div>
<div class="t" style="left:2096.39px;top:857.59px;font-size:21.2px;color:#212529;font-weight:400;font-family:'Liberation Sans', Arial, sans-serif;letter-spacing:0.968px;">1972-12-04</div>
<svg class="r" style="left:2396px;top:868.0px;" width="29" height="22" viewBox="0 0 29 22"><path d="M2,11 L10,19 L27,2.5" fill="none" stroke="#4cb862" stroke-width="2.6"/></svg>
<svg class="r" style="left:2532px;top:868.0px;" width="24" height="22" viewBox="0 0 24 22"><path d="M2,1.5 L22,20.5 M22,1.5 L2,20.5" fill="none" stroke="#d9382c" stroke-width="2.8"/></svg>
<div class="r" style="left:1419px;top:923.3px;width:1253px;height:86.80000000000007px;background:#f2f2f2;"></div>
<div class="r" style="left:1905px;top:945.1px;width:56px;height:23.0px;background:#5cb85c;border-radius:5px;"></div>
<div class="t" style="left:1910.67px;top:948.34px;font-size:16.6px;color:#fff;font-weight:400;font-family:'Liberation Sans', Arial, sans-serif;letter-spacing:0.477px;-webkit-text-stroke:0.75px #fff;">Actief</div>
<div class="t" style="left:2096.39px;top:944.64px;font-size:21.2px;color:#212529;font-weight:400;font-family:'Liberation Sans', Arial, sans-serif;letter-spacing:0.965px;">1970-12-06</div>
<svg class="r" style="left:2396px;top:955.1px;" width="29" height="22" viewBox="0 0 29 22"><path d="M2,11 L10,19 L27,2.5" fill="none" stroke="#4cb862" stroke-width="2.6"/></svg>
<svg class="r" style="left:2532px;top:955.1px;" width="29" height="22" viewBox="0 0 29 22"><path d="M2,11 L10,19 L27,2.5" fill="none" stroke="#4cb862" stroke-width="2.6"/></svg>
<div class="r" style="left:1419px;top:1010.4px;width:1253px;height:86.80000000000007px;background:#fff;"></div>
<div class="r" style="left:1905px;top:1032.2px;width:56px;height:23.0px;background:#5cb85c;border-radius:5px;"></div>
<div class="t" style="left:1910.67px;top:1035.39px;font-size:16.6px;color:#fff;font-weight:400;font-family:'Liberation Sans', Arial, sans-serif;letter-spacing:0.477px;-webkit-text-stroke:0.75px #fff;">Actief</div>
<div class="t" style="left:2096.39px;top:1031.69px;font-size:21.2px;color:#212529;font-weight:400;font-family:'Liberation Sans', Arial, sans-serif;letter-spacing:0.964px;">1965-12-07</div>
<svg class="r" style="left:2396px;top:1042.2px;" width="29" height="22" viewBox="0 0 29 22"><path d="M2,11 L10,19 L27,2.5" fill="none" stroke="#4cb862" stroke-width="2.6"/></svg>
<svg class="r" style="left:2532px;top:1042.2px;" width="29" height="22" viewBox="0 0 29 22"><path d="M2,11 L10,19 L27,2.5" fill="none" stroke="#4cb862" stroke-width="2.6"/></svg>
<div class="r" style="left:1419px;top:1097.4px;width:1253px;height:86.79999999999995px;background:#f2f2f2;"></div>
<div class="r" style="left:1905px;top:1119.2px;width:56px;height:23.0px;background:#5cb85c;border-radius:5px;"></div>
<div class="t" style="left:1910.67px;top:1122.44px;font-size:16.6px;color:#fff;font-weight:400;font-family:'Liberation Sans', Arial, sans-serif;letter-spacing:0.477px;-webkit-text-stroke:0.75px #fff;">Actief</div>
<div class="t" style="left:2096.39px;top:1118.74px;font-size:21.2px;color:#212529;font-weight:400;font-family:'Liberation Sans', Arial, sans-serif;letter-spacing:0.964px;">1956-12-09</div>
<svg class="r" style="left:2396px;top:1129.2px;" width="29" height="22" viewBox="0 0 29 22"><path d="M2,11 L10,19 L27,2.5" fill="none" stroke="#4cb862" stroke-width="2.6"/></svg>
<svg class="r" style="left:2532px;top:1129.2px;" width="29" height="22" viewBox="0 0 29 22"><path d="M2,11 L10,19 L27,2.5" fill="none" stroke="#4cb862" stroke-width="2.6"/></svg>
<div class="r" style="left:1419px;top:1184.5px;width:1253px;height:86.79999999999995px;background:#fff;"></div>
<div class="r" style="left:1905px;top:1206.2px;width:56px;height:23.0px;background:#5cb85c;border-radius:5px;"></div>
<div class="t" style="left:1910.67px;top:1209.49px;font-size:16.6px;color:#fff;font-weight:400;font-family:'Liberation Sans', Arial, sans-serif;letter-spacing:0.477px;-webkit-text-stroke:0.75px #fff;">Actief</div>
<div class="t" style="left:2096.39px;top:1205.79px;font-size:21.2px;color:#212529;font-weight:400;font-family:'Liberation Sans', Arial, sans-serif;letter-spacing:0.966px;">1982-12-10</div>
<svg class="r" style="left:2396px;top:1216.2px;" width="29" height="22" viewBox="0 0 29 22"><path d="M2,11 L10,19 L27,2.5" fill="none" stroke="#4cb862" stroke-width="2.6"/></svg>
<svg class="r" style="left:2532px;top:1216.2px;" width="24" height="22" viewBox="0 0 24 22"><path d="M2,1.5 L22,20.5 M22,1.5 L2,20.5" fill="none" stroke="#d9382c" stroke-width="2.8"/></svg>
<div class="r" style="left:1419px;top:1271.5px;width:1253px;height:86.79999999999995px;background:#f2f2f2;"></div>
<div class="r" style="left:1905px;top:1293.3px;width:56px;height:23.0px;background:#5cb85c;border-radius:5px;"></div>
<div class="t" style="left:1910.67px;top:1296.54px;font-size:16.6px;color:#fff;font-weight:400;font-family:'Liberation Sans', Arial, sans-serif;letter-spacing:0.477px;-webkit-text-stroke:0.75px #fff;">Actief</div>
<div class="t" style="left:2096.39px;top:1292.84px;font-size:21.2px;color:#212529;font-weight:400;font-family:'Liberation Sans', Arial, sans-serif;letter-spacing:0.966px;">1991-12-10</div>
<svg class="r" style="left:2396px;top:1303.3px;" width="29" height="22" viewBox="0 0 29 22"><path d="M2,11 L10,19 L27,2.5" fill="none" stroke="#4cb862" stroke-width="2.6"/></svg>
<svg class="r" style="left:2532px;top:1303.3px;" width="29" height="22" viewBox="0 0 29 22"><path d="M2,11 L10,19 L27,2.5" fill="none" stroke="#4cb862" stroke-width="2.6"/></svg>
<div class="r" style="left:1419px;top:1358.5px;width:1253px;height:86.90000000000009px;background:#fff;"></div>
<div class="r" style="left:1905px;top:1380.3px;width:56px;height:23.0px;background:#5cb85c;border-radius:5px;"></div>
<div class="t" style="left:1910.67px;top:1383.59px;font-size:16.6px;color:#fff;font-weight:400;font-family:'Liberation Sans', Arial, sans-serif;letter-spacing:0.477px;-webkit-text-stroke:0.75px #fff;">Actief</div>
<div class="t" style="left:2096.39px;top:1379.89px;font-size:21.2px;color:#212529;font-weight:400;font-family:'Liberation Sans', Arial, sans-serif;letter-spacing:0.950px;">1981-12-11</div>
<svg class="r" style="left:2396px;top:1390.3px;" width="29" height="22" viewBox="0 0 29 22"><path d="M2,11 L10,19 L27,2.5" fill="none" stroke="#4cb862" stroke-width="2.6"/></svg>
<svg class="r" style="left:2532px;top:1390.3px;" width="29" height="22" viewBox="0 0 29 22"><path d="M2,11 L10,19 L27,2.5" fill="none" stroke="#4cb862" stroke-width="2.6"/></svg>
<div class="r" style="left:1419px;top:1445.6px;width:1253px;height:86.90000000000009px;background:#f2f2f2;"></div>
<div class="r" style="left:1905px;top:1467.4px;width:56px;height:23.0px;background:#5cb85c;border-radius:5px;"></div>
<div class="t" style="left:1910.67px;top:1470.64px;font-size:16.6px;color:#fff;font-weight:400;font-family:'Liberation Sans', Arial, sans-serif;letter-spacing:0.477px;-webkit-text-stroke:0.75px #fff;">Actief</div>
<div class="t" style="left:2096.39px;top:1466.94px;font-size:21.2px;color:#212529;font-weight:400;font-family:'Liberation Sans', Arial, sans-serif;letter-spacing:0.950px;">1970-12-11</div>
<svg class="r" style="left:2396px;top:1477.4px;" width="29" height="22" viewBox="0 0 29 22"><path d="M2,11 L10,19 L27,2.5" fill="none" stroke="#4cb862" stroke-width="2.6"/></svg>
<svg class="r" style="left:2532px;top:1477.4px;" width="29" height="22" viewBox="0 0 29 22"><path d="M2,11 L10,19 L27,2.5" fill="none" stroke="#4cb862" stroke-width="2.6"/></svg>
<div class="r" style="left:1419px;top:1532.6px;width:1253px;height:86.90000000000009px;background:#fff;"></div>
<div class="r" style="left:1905px;top:1554.4px;width:56px;height:23.0px;background:#5cb85c;border-radius:5px;"></div>
<div class="t" style="left:1910.67px;top:1557.69px;font-size:16.6px;color:#fff;font-weight:400;font-family:'Liberation Sans', Arial, sans-serif;letter-spacing:0.477px;-webkit-text-stroke:0.75px #fff;">Actief</div>
<div class="t" style="left:2096.39px;top:1553.99px;font-size:21.2px;color:#212529;font-weight:400;font-family:'Liberation Sans', Arial, sans-serif;letter-spacing:0.964px;">1970-12-12</div>
<svg class="r" style="left:2396px;top:1564.4px;" width="29" height="22" viewBox="0 0 29 22"><path d="M2,11 L10,19 L27,2.5" fill="none" stroke="#4cb862" stroke-width="2.6"/></svg>
<svg class="r" style="left:2532px;top:1564.4px;" width="29" height="22" viewBox="0 0 29 22"><path d="M2,11 L10,19 L27,2.5" fill="none" stroke="#4cb862" stroke-width="2.6"/></svg>
<div class="r" style="left:1419px;top:1619.7px;width:1253px;height:86.79999999999995px;background:#f2f2f2;"></div>
<div class="r" style="left:1905px;top:1641.5px;width:56px;height:23.0px;background:#5cb85c;border-radius:5px;"></div>
<div class="t" style="left:1910.67px;top:1644.74px;font-size:16.6px;color:#fff;font-weight:400;font-family:'Liberation Sans', Arial, sans-serif;letter-spacing:0.477px;-webkit-text-stroke:0.75px #fff;">Actief</div>
<div class="t" style="left:2096.39px;top:1641.04px;font-size:21.2px;color:#212529;font-weight:400;font-family:'Liberation Sans', Arial, sans-serif;letter-spacing:0.965px;">1967-12-13</div>
<svg class="r" style="left:2396px;top:1651.5px;" width="29" height="22" viewBox="0 0 29 22"><path d="M2,11 L10,19 L27,2.5" fill="none" stroke="#4cb862" stroke-width="2.6"/></svg>
<svg class="r" style="left:2532px;top:1651.5px;" width="29" height="22" viewBox="0 0 29 22"><path d="M2,11 L10,19 L27,2.5" fill="none" stroke="#4cb862" stroke-width="2.6"/></svg>
<div class="r" style="left:1419px;top:1706.8px;width:1253px;height:86.79999999999995px;background:#fff;"></div>
<div class="r" style="left:1905px;top:1728.5px;width:56px;height:23.0px;background:#5cb85c;border-radius:5px;"></div>
<div class="t" style="left:1910.67px;top:1731.79px;font-size:16.6px;color:#fff;font-weight:400;font-family:'Liberation Sans', Arial, sans-serif;letter-spacing:0.477px;-webkit-text-stroke:0.75px #fff;">Actief</div>
<div class="t" style="left:2096.39px;top:1728.09px;font-size:21.2px;color:#212529;font-weight:400;font-family:'Liberation Sans', Arial, sans-serif;letter-spacing:0.965px;">1987-12-13</div>
<svg class="r" style="left:2396px;top:1738.5px;" width="29" height="22" viewBox="0 0 29 22"><path d="M2,11 L10,19 L27,2.5" fill="none" stroke="#4cb862" stroke-width="2.6"/></svg>
<svg class="r" style="left:2532px;top:1738.5px;" width="29" height="22" viewBox="0 0 29 22"><path d="M2,11 L10,19 L27,2.5" fill="none" stroke="#4cb862" stroke-width="2.6"/></svg>
<div class="r" style="left:1419px;top:1793.8px;width:1253px;height:86.79999999999995px;background:#f2f2f2;"></div>
<div class="r" style="left:1905px;top:1815.6px;width:56px;height:23.0px;background:#5cb85c;border-radius:5px;"></div>
<div class="t" style="left:1910.67px;top:1818.84px;font-size:16.6px;color:#fff;font-weight:400;font-family:'Liberation Sans', Arial, sans-serif;letter-spacing:0.477px;-webkit-text-stroke:0.75px #fff;">Actief</div>
<div class="t" style="left:2096.39px;top:1815.14px;font-size:21.2px;color:#212529;font-weight:400;font-family:'Liberation Sans', Arial, sans-serif;letter-spacing:0.968px;">1949-12-14</div>
<svg class="r" style="left:2396px;top:1825.6px;" width="29" height="22" viewBox="0 0 29 22"><path d="M2,11 L10,19 L27,2.5" fill="none" stroke="#4cb862" stroke-width="2.6"/></svg>
<svg class="r" style="left:2532px;top:1825.6px;" width="29" height="22" viewBox="0 0 29 22"><path d="M2,11 L10,19 L27,2.5" fill="none" stroke="#4cb862" stroke-width="2.6"/></svg>
<div class="r" style="left:1419px;top:1880.8px;width:1253px;height:86.90000000000009px;background:#fff;"></div>
<div class="r" style="left:1905px;top:1902.6px;width:56px;height:23.0px;background:#5cb85c;border-radius:5px;"></div>
<div class="t" style="left:1910.67px;top:1905.89px;font-size:16.6px;color:#fff;font-weight:400;font-family:'Liberation Sans', Arial, sans-serif;letter-spacing:0.477px;-webkit-text-stroke:0.75px #fff;">Actief</div>
<div class="t" style="left:2096.39px;top:1902.19px;font-size:21.2px;color:#212529;font-weight:400;font-family:'Liberation Sans', Arial, sans-serif;letter-spacing:0.968px;">1951-12-14</div>
<svg class="r" style="left:2396px;top:1912.6px;" width="29" height="22" viewBox="0 0 29 22"><path d="M2,11 L10,19 L27,2.5" fill="none" stroke="#4cb862" stroke-width="2.6"/></svg>
<svg class="r" style="left:2532px;top:1912.6px;" width="29" height="22" viewBox="0 0 29 22"><path d="M2,11 L10,19 L27,2.5" fill="none" stroke="#4cb862" stroke-width="2.6"/></svg>
<div class="r" style="left:1419px;top:1967.9px;width:1253px;height:86.90000000000009px;background:#f2f2f2;"></div>
<div class="r" style="left:1905px;top:1989.7px;width:56px;height:23.0px;background:#5cb85c;border-radius:5px;"></div>
<div class="t" style="left:1910.67px;top:1992.94px;font-size:16.6px;color:#fff;font-weight:400;font-family:'Liberation Sans', Arial, sans-serif;letter-spacing:0.477px;-webkit-text-stroke:0.75px #fff;">Actief</div>
<div class="t" style="left:2096.39px;top:1989.24px;font-size:21.2px;color:#212529;font-weight:400;font-family:'Liberation Sans', Arial, sans-serif;letter-spacing:0.965px;">1961-12-16</div>
<svg class="r" style="left:2396px;top:1999.7px;" width="29" height="22" viewBox="0 0 29 22"><path d="M2,11 L10,19 L27,2.5" fill="none" stroke="#4cb862" stroke-width="2.6"/></svg>
<svg class="r" style="left:2532px;top:1999.7px;" width="29" height="22" viewBox="0 0 29 22"><path d="M2,11 L10,19 L27,2.5" fill="none" stroke="#4cb862" stroke-width="2.6"/></svg>
<div class="r" style="left:1419px;top:2054.9px;width:1253px;height:86.90000000000009px;background:#fff;"></div>
<div class="r" style="left:1905px;top:2076.8px;width:56px;height:23.0px;background:#5cb85c;border-radius:5px;"></div>
<div class="t" style="left:1910.67px;top:2079.99px;font-size:16.6px;color:#fff;font-weight:400;font-family:'Liberation Sans', Arial, sans-serif;letter-spacing:0.477px;-webkit-text-stroke:0.75px #fff;">Actief</div>
<div class="t" style="left:2096.39px;top:2076.29px;font-size:21.2px;color:#212529;font-weight:400;font-family:'Liberation Sans', Arial, sans-serif;letter-spacing:0.965px;">1973-12-16</div>
<svg class="r" style="left:2396px;top:2086.8px;" width="29" height="22" viewBox="0 0 29 22"><path d="M2,11 L10,19 L27,2.5" fill="none" stroke="#4cb862" stroke-width="2.6"/></svg>
<svg class="r" style="left:2532px;top:2086.8px;" width="29" height="22" viewBox="0 0 29 22"><path d="M2,11 L10,19 L27,2.5" fill="none" stroke="#4cb862" stroke-width="2.6"/></svg>
<div class="r" style="left:1419px;top:2142.0px;width:1253px;height:86.90000000000009px;background:#f2f2f2;"></div>
<div class="r" style="left:1905px;top:2163.8px;width:56px;height:23.0px;background:#5cb85c;border-radius:5px;"></div>
<div class="t" style="left:1910.67px;top:2167.04px;font-size:16.6px;color:#fff;font-weight:400;font-family:'Liberation Sans', Arial, sans-serif;letter-spacing:0.477px;-webkit-text-stroke:0.75px #fff;">Actief</div>
<div class="t" style="left:2096.39px;top:2163.34px;font-size:21.2px;color:#212529;font-weight:400;font-family:'Liberation Sans', Arial, sans-serif;letter-spacing:0.964px;">1977-12-17</div>
<svg class="r" style="left:2396px;top:2173.8px;" width="29" height="22" viewBox="0 0 29 22"><path d="M2,11 L10,19 L27,2.5" fill="none" stroke="#4cb862" stroke-width="2.6"/></svg>
<svg class="r" style="left:2532px;top:2173.8px;" width="29" height="22" viewBox="0 0 29 22"><path d="M2,11 L10,19 L27,2.5" fill="none" stroke="#4cb862" stroke-width="2.6"/></svg>
<div class="r" style="left:1419px;top:2229.0px;width:1253px;height:86.90000000000009px;background:#fff;"></div>
<div class="r" style="left:1905px;top:2250.8px;width:56px;height:23.0px;background:#5cb85c;border-radius:5px;"></div>
<div class="t" style="left:1910.67px;top:2254.09px;font-size:16.6px;color:#fff;font-weight:400;font-family:'Liberation Sans', Arial, sans-serif;letter-spacing:0.477px;-webkit-text-stroke:0.75px #fff;">Actief</div>
<div class="t" style="left:2096.39px;top:2250.39px;font-size:21.2px;color:#212529;font-weight:400;font-family:'Liberation Sans', Arial, sans-serif;letter-spacing:0.965px;">1973-12-18</div>
<svg class="r" style="left:2396px;top:2260.8px;" width="29" height="22" viewBox="0 0 29 22"><path d="M2,11 L10,19 L27,2.5" fill="none" stroke="#4cb862" stroke-width="2.6"/></svg>
<svg class="r" style="left:2532px;top:2260.8px;" width="29" height="22" viewBox="0 0 29 22"><path d="M2,11 L10,19 L27,2.5" fill="none" stroke="#4cb862" stroke-width="2.6"/></svg>
<div class="r" style="left:1419px;top:834.9px;width:1253px;height:2.0px;background:#c4c4c4;"></div>
<div class="r" style="left:1419px;top:922.0px;width:1253px;height:2.0px;background:#c4c4c4;"></div>
<div class="r" style="left:1419px;top:1009.0px;width:1253px;height:2.0px;background:#c4c4c4;"></div>
<div class="r" style="left:1419px;top:1096.1px;width:1253px;height:2.0px;background:#c4c4c4;"></div>
<div class="r" style="left:1419px;top:1183.2px;width:1253px;height:2.0px;background:#c4c4c4;"></div>
<div class="r" style="left:1419px;top:1270.2px;width:1253px;height:2.0px;background:#c4c4c4;"></div>
<div class="r" style="left:1419px;top:1357.2px;width:1253px;height:2.0px;background:#c4c4c4;"></div>
<div class="r" style="left:1419px;top:1444.3px;width:1253px;height:2.0px;background:#c4c4c4;"></div>
<div class="r" style="left:1419px;top:1531.4px;width:1253px;height:2.0px;background:#c4c4c4;"></div>
<div class="r" style="left:1419px;top:1618.4px;width:1253px;height:2.0px;background:#c4c4c4;"></div>
<div class="r" style="left:1419px;top:1705.5px;width:1253px;height:2.0px;background:#c4c4c4;"></div>
<div class="r" style="left:1419px;top:1792.5px;width:1253px;height:2.0px;background:#c4c4c4;"></div>
<div class="r" style="left:1419px;top:1879.5px;width:1253px;height:2.0px;background:#c4c4c4;"></div>
<div class="r" style="left:1419px;top:1966.6px;width:1253px;height:2.0px;background:#c4c4c4;"></div>
<div class="r" style="left:1419px;top:2053.7px;width:1253px;height:2.0px;background:#c4c4c4;"></div>
<div class="r" style="left:1419px;top:2140.7px;width:1253px;height:2.0px;background:#c4c4c4;"></div>
<div class="r" style="left:1419px;top:2227.8px;width:1253px;height:2.0px;background:#c4c4c4;"></div>
<div class="r" style="left:1419px;top:2314.8px;width:1253px;height:2.0px;background:#c4c4c4;"></div>
<svg class="r" style="left:1428px;top:1292px;" width="10" height="26" viewBox="0 0 10 26"><path d="M6.6,3.5 V19.5 Q6.6,22.6 3.6,22.6 Q2.8,22.6 2.6,22.2" fill="none" stroke="#3d6fb3" stroke-width="1.7"/></svg>
<svg class="r" style="left:1428px;top:1466px;" width="10" height="24" viewBox="0 0 10 24"><path d="M6.3,2.5 V19.7 Q6.3,21 4.8,21 H3.4" fill="none" stroke="#3d6fb3" stroke-width="1"/><path d="M3.2,20 H6.5 V22 H3.2Z" fill="#3d6fb3"/></svg>
<div class="r" style="left:1433.6px;top:1558px;width:1.400000000000091px;height:4.599999999999909px;background:#3d6fb3;"></div>
<div class="r" style="left:1433.6px;top:1570px;width:1.400000000000091px;height:2.599999999999909px;background:#3d6fb3;"></div>
<div class="r" style="left:1430.6px;top:1659.3px;width:1.2000000000000455px;height:1.400000000000091px;background:#7f9fcc;"></div>
<div class="r" style="left:1430.6px;top:1747.3px;width:1.2000000000000455px;height:1.400000000000091px;background:#7f9fcc;"></div>
<div class="r" style="left:1434px;top:1902px;width:0.900000000000091px;height:16px;background:#8fb0dc;"></div>
<svg class="r" style="left:1432px;top:1994px;" width="5" height="14" viewBox="0 0 5 14"><path d="M1,12.5 L3.6,1 L3.6,12.5Z" fill="#3d6fb3"/></svg>
<div class="r" style="left:1434px;top:2077px;width:0.900000000000091px;height:14.5px;background:#8fb0dc;"></div>
<svg class="r" style="left:1432px;top:2251px;" width="6" height="18" viewBox="0 0 6 18"><ellipse cx="3" cy="5" rx="1.1" ry="3.4" fill="#3d6fb3"/><ellipse cx="3" cy="15.4" rx="1.05" ry="1.3" fill="#3d6fb3"/></svg>
<div class="r" style="left:110px;top:1207px;width:1255px;height:1083px;background:#fff;border:1px solid #dfe2e6;border-radius:7px;box-sizing:border-box;"></div>
<div class="r" style="left:111px;top:1209px;width:1253px;height:75px;background:#4577b1;border-radius:6px 6px 0 0;border-bottom:1px solid #3c6aa3;box-sizing:border-box;"></div>
<div class="t" style="left:145.51px;top:1234.95px;font-size:23.2px;color:#fff;font-weight:400;font-family:'Liberation Sans', Arial, sans-serif;letter-spacing:0.001px;">Openstaande checklists</div>
<div class="r" style="left:111px;top:1284px;width:1253px;height:103px;background:#d9e4f0;"></div>
<div class="r" style="left:111px;top:1387px;width:1253px;height:2px;background:#c9c9c9;"></div>
<svg class="r" style="left:150px;top:1326px;" width="20" height="19" viewBox="0 0 20 19"><circle cx="10" cy="4.8" r="4.6" fill="#1c3557"/><path d="M0,19 V16.5 C0,12.6 5.5,11.3 10,11.3 C14.5,11.3 20,12.6 20,16.5 V19Z" fill="#1c3557"/></svg>
<div class="t" style="left:180.52px;top:1321.92px;font-size:27.6px;color:#1c3557;font-weight:400;font-family:'Liberation Sans', Arial, sans-serif;letter-spacing:0.675px;">Checklists op professionals</div>
<div class="t" style="left:124.73px;top:1408.30px;font-size:21.6px;color:#212529;font-weight:400;font-family:'Liberation Sans', Arial, sans-serif;letter-spacing:0.957px;">Professional</div>
<div class="t" style="left:1110.36px;top:1408.30px;font-size:21.6px;color:#212529;font-weight:400;font-family:'Liberation Sans', Arial, sans-serif;letter-spacing:1.225px;">Afgerond</div>
<div class="r" style="left:111px;top:1450.6px;width:1253px;height:2.7000000000000455px;background:#bdbdbd;"></div>
<div class="r" style="left:111px;top:1453.0px;width:1253px;height:75.5px;background:#f2f2f2;"></div>
<div class="r" style="left:1110px;top:1474.0px;width:95.5px;height:24.0px;background:#f0a53c;border-radius:12px;"></div>
<div class="t" style="left:1119.71px;top:1477.60px;font-size:17px;color:#fff;font-weight:400;font-family:'Liberation Sans', Arial, sans-serif;letter-spacing:0.216px;-webkit-text-stroke:0.75px #fff;">17 van 19</div>
<div class="r" style="left:1298px;top:1466.3px;width:51px;height:47.200000000000045px;border:1.9px solid #4a7ab8;border-radius:6px;box-sizing:border-box;"></div>
<svg class="r" style="left:1314px;top:1484.0px;" width="19" height="13" viewBox="0 0 19 13"><path d="M9.5,0.5 C5.3,0.5 1.8,3 0.3,6.5 C1.8,10 5.3,12.5 9.5,12.5 C13.7,12.5 17.2,10 18.7,6.5 C17.2,3 13.7,0.5 9.5,0.5Z M9.5,10.6 A4.1,4.1 0 1 1 9.5,2.4 A4.1,4.1 0 1 1 9.5,10.6Z M9.5,4 A2.5,2.5 0 1 0 9.5,9 A2.5,2.5 0 1 0 9.5,4Z" fill="#3d6fb0" fill-rule="evenodd"/></svg>
<div class="r" style="left:111px;top:1528.5px;width:1253px;height:75.59999999999991px;background:#fff;"></div>
<div class="r" style="left:1110px;top:1549.5px;width:95.5px;height:24.0px;background:#f0a53c;border-radius:12px;"></div>
<div class="t" style="left:1119.71px;top:1553.15px;font-size:17px;color:#fff;font-weight:400;font-family:'Liberation Sans', Arial, sans-serif;letter-spacing:0.216px;-webkit-text-stroke:0.75px #fff;">16 van 17</div>
<div class="r" style="left:1298px;top:1541.8px;width:51px;height:47.200000000000045px;border:1.9px solid #4a7ab8;border-radius:6px;box-sizing:border-box;"></div>
<svg class="r" style="left:1314px;top:1559.5px;" width="19" height="13" viewBox="0 0 19 13"><path d="M9.5,0.5 C5.3,0.5 1.8,3 0.3,6.5 C1.8,10 5.3,12.5 9.5,12.5 C13.7,12.5 17.2,10 18.7,6.5 C17.2,3 13.7,0.5 9.5,0.5Z M9.5,10.6 A4.1,4.1 0 1 1 9.5,2.4 A4.1,4.1 0 1 1 9.5,10.6Z M9.5,4 A2.5,2.5 0 1 0 9.5,9 A2.5,2.5 0 1 0 9.5,4Z" fill="#3d6fb0" fill-rule="evenodd"/></svg>
<div class="r" style="left:111px;top:1604.1px;width:1253px;height:75.5px;background:#f2f2f2;"></div>
<div class="r" style="left:1110px;top:1625.1px;width:95.5px;height:24.0px;background:#f0a53c;border-radius:12px;"></div>
<div class="t" style="left:1119.71px;top:1628.70px;font-size:17px;color:#fff;font-weight:400;font-family:'Liberation Sans', Arial, sans-serif;letter-spacing:0.216px;-webkit-text-stroke:0.75px #fff;">18 van 19</div>
<div class="r" style="left:1298px;top:1617.4px;width:51px;height:47.19999999999982px;border:1.9px solid #4a7ab8;border-radius:6px;box-sizing:border-box;"></div>
<svg class="r" style="left:1314px;top:1635.1px;" width="19" height="13" viewBox="0 0 19 13"><path d="M9.5,0.5 C5.3,0.5 1.8,3 0.3,6.5 C1.8,10 5.3,12.5 9.5,12.5 C13.7,12.5 17.2,10 18.7,6.5 C17.2,3 13.7,0.5 9.5,0.5Z M9.5,10.6 A4.1,4.1 0 1 1 9.5,2.4 A4.1,4.1 0 1 1 9.5,10.6Z M9.5,4 A2.5,2.5 0 1 0 9.5,9 A2.5,2.5 0 1 0 9.5,4Z" fill="#3d6fb0" fill-rule="evenodd"/></svg>
<div class="r" style="left:111px;top:1679.7px;width:1253px;height:75.5px;background:#fff;"></div>
<div class="r" style="left:1110px;top:1700.7px;width:95.5px;height:24.0px;background:#f0a53c;border-radius:12px;"></div>
<div class="t" style="left:1119.71px;top:1704.25px;font-size:17px;color:#fff;font-weight:400;font-family:'Liberation Sans', Arial, sans-serif;letter-spacing:0.216px;-webkit-text-stroke:0.75px #fff;">16 van 17</div>
<div class="r" style="left:1298px;top:1693.0px;width:51px;height:47.200000000000045px;border:1.9px solid #4a7ab8;border-radius:6px;box-sizing:border-box;"></div>
<svg class="r" style="left:1314px;top:1710.7px;" width="19" height="13" viewBox="0 0 19 13"><path d="M9.5,0.5 C5.3,0.5 1.8,3 0.3,6.5 C1.8,10 5.3,12.5 9.5,12.5 C13.7,12.5 17.2,10 18.7,6.5 C17.2,3 13.7,0.5 9.5,0.5Z M9.5,10.6 A4.1,4.1 0 1 1 9.5,2.4 A4.1,4.1 0 1 1 9.5,10.6Z M9.5,4 A2.5,2.5 0 1 0 9.5,9 A2.5,2.5 0 1 0 9.5,4Z" fill="#3d6fb0" fill-rule="evenodd"/></svg>
<div class="r" style="left:111px;top:1755.2px;width:1253px;height:75.59999999999991px;background:#f2f2f2;"></div>
<div class="r" style="left:1110px;top:1776.2px;width:95.5px;height:24.0px;background:#f0a53c;border-radius:12px;"></div>
<div class="t" style="left:1119.71px;top:1779.80px;font-size:17px;color:#fff;font-weight:400;font-family:'Liberation Sans', Arial, sans-serif;letter-spacing:0.216px;-webkit-text-stroke:0.75px #fff;">18 van 19</div>
<div class="r" style="left:1298px;top:1768.5px;width:51px;height:47.200000000000045px;border:1.9px solid #4a7ab8;border-radius:6px;box-sizing:border-box;"></div>
<svg class="r" style="left:1314px;top:1786.2px;" width="19" height="13" viewBox="0 0 19 13"><path d="M9.5,0.5 C5.3,0.5 1.8,3 0.3,6.5 C1.8,10 5.3,12.5 9.5,12.5 C13.7,12.5 17.2,10 18.7,6.5 C17.2,3 13.7,0.5 9.5,0.5Z M9.5,10.6 A4.1,4.1 0 1 1 9.5,2.4 A4.1,4.1 0 1 1 9.5,10.6Z M9.5,4 A2.5,2.5 0 1 0 9.5,9 A2.5,2.5 0 1 0 9.5,4Z" fill="#3d6fb0" fill-rule="evenodd"/></svg>
<div class="r" style="left:111px;top:1830.8px;width:1253px;height:75.5px;background:#fff;"></div>
<div class="r" style="left:1110px;top:1851.8px;width:95.5px;height:24.0px;background:#f0a53c;border-radius:12px;"></div>
<div class="t" style="left:1119.71px;top:1855.35px;font-size:17px;color:#fff;font-weight:400;font-family:'Liberation Sans', Arial, sans-serif;letter-spacing:0.216px;-webkit-text-stroke:0.75px #fff;">16 van 17</div>
<div class="r" style="left:1298px;top:1844.0px;width:51px;height:47.200000000000045px;border:1.9px solid #4a7ab8;border-radius:6px;box-sizing:border-box;"></div>
<svg class="r" style="left:1314px;top:1861.8px;" width="19" height="13" viewBox="0 0 19 13"><path d="M9.5,0.5 C5.3,0.5 1.8,3 0.3,6.5 C1.8,10 5.3,12.5 9.5,12.5 C13.7,12.5 17.2,10 18.7,6.5 C17.2,3 13.7,0.5 9.5,0.5Z M9.5,10.6 A4.1,4.1 0 1 1 9.5,2.4 A4.1,4.1 0 1 1 9.5,10.6Z M9.5,4 A2.5,2.5 0 1 0 9.5,9 A2.5,2.5 0 1 0 9.5,4Z" fill="#3d6fb0" fill-rule="evenodd"/></svg>
<div class="r" style="left:111px;top:1906.3px;width:1253px;height:75.5px;background:#f2f2f2;"></div>
<div class="r" style="left:1110px;top:1927.3px;width:95.5px;height:24.0px;background:#f0a53c;border-radius:12px;"></div>
<div class="t" style="left:1119.71px;top:1930.90px;font-size:17px;color:#fff;font-weight:400;font-family:'Liberation Sans', Arial, sans-serif;letter-spacing:0.216px;-webkit-text-stroke:0.75px #fff;">16 van 17</div>
<div class="r" style="left:1298px;top:1919.6px;width:51px;height:47.200000000000045px;border:1.9px solid #4a7ab8;border-radius:6px;box-sizing:border-box;"></div>
<svg class="r" style="left:1314px;top:1937.3px;" width="19" height="13" viewBox="0 0 19 13"><path d="M9.5,0.5 C5.3,0.5 1.8,3 0.3,6.5 C1.8,10 5.3,12.5 9.5,12.5 C13.7,12.5 17.2,10 18.7,6.5 C17.2,3 13.7,0.5 9.5,0.5Z M9.5,10.6 A4.1,4.1 0 1 1 9.5,2.4 A4.1,4.1 0 1 1 9.5,10.6Z M9.5,4 A2.5,2.5 0 1 0 9.5,9 A2.5,2.5 0 1 0 9.5,4Z" fill="#3d6fb0" fill-rule="evenodd"/></svg>
<div class="r" style="left:111px;top:1981.8px;width:1253px;height:75.60000000000014px;background:#fff;"></div>
<div class="r" style="left:1110px;top:2002.8px;width:95.5px;height:24.0px;background:#f0a53c;border-radius:12px;"></div>
<div class="t" style="left:1119.71px;top:2006.45px;font-size:17px;color:#fff;font-weight:400;font-family:'Liberation Sans', Arial, sans-serif;letter-spacing:0.216px;-webkit-text-stroke:0.75px #fff;">16 van 17</div>
<div class="r" style="left:1298px;top:1995.1px;width:51px;height:47.200000000000045px;border:1.9px solid #4a7ab8;border-radius:6px;box-sizing:border-box;"></div>
<svg class="r" style="left:1314px;top:2012.8px;" width="19" height="13" viewBox="0 0 19 13"><path d="M9.5,0.5 C5.3,0.5 1.8,3 0.3,6.5 C1.8,10 5.3,12.5 9.5,12.5 C13.7,12.5 17.2,10 18.7,6.5 C17.2,3 13.7,0.5 9.5,0.5Z M9.5,10.6 A4.1,4.1 0 1 1 9.5,2.4 A4.1,4.1 0 1 1 9.5,10.6Z M9.5,4 A2.5,2.5 0 1 0 9.5,9 A2.5,2.5 0 1 0 9.5,4Z" fill="#3d6fb0" fill-rule="evenodd"/></svg>
<div class="r" style="left:111px;top:2057.4px;width:1253px;height:75.59999999999991px;background:#f2f2f2;"></div>
<div class="r" style="left:1110px;top:2078.4px;width:95.5px;height:24.0px;background:#f0a53c;border-radius:12px;"></div>
<div class="t" style="left:1119.71px;top:2082.00px;font-size:17px;color:#fff;font-weight:400;font-family:'Liberation Sans', Arial, sans-serif;letter-spacing:0.216px;-webkit-text-stroke:0.75px #fff;">16 van 17</div>
<div class="r" style="left:1298px;top:2070.7px;width:51px;height:47.20000000000027px;border:1.9px solid #4a7ab8;border-radius:6px;box-sizing:border-box;"></div>
<svg class="r" style="left:1314px;top:2088.4px;" width="19" height="13" viewBox="0 0 19 13"><path d="M9.5,0.5 C5.3,0.5 1.8,3 0.3,6.5 C1.8,10 5.3,12.5 9.5,12.5 C13.7,12.5 17.2,10 18.7,6.5 C17.2,3 13.7,0.5 9.5,0.5Z M9.5,10.6 A4.1,4.1 0 1 1 9.5,2.4 A4.1,4.1 0 1 1 9.5,10.6Z M9.5,4 A2.5,2.5 0 1 0 9.5,9 A2.5,2.5 0 1 0 9.5,4Z" fill="#3d6fb0" fill-rule="evenodd"/></svg>
<div class="r" style="left:111px;top:2132.9px;width:1253px;height:75.59999999999991px;background:#fff;"></div>
<div class="r" style="left:1110px;top:2153.9px;width:95.5px;height:24.0px;background:#f0a53c;border-radius:12px;"></div>
<div class="t" style="left:1119.71px;top:2157.55px;font-size:17px;color:#fff;font-weight:400;font-family:'Liberation Sans', Arial, sans-serif;letter-spacing:0.216px;-webkit-text-stroke:0.75px #fff;">16 van 17</div>
<div class="r" style="left:1298px;top:2146.2px;width:51px;height:47.20000000000027px;border:1.9px solid #4a7ab8;border-radius:6px;box-sizing:border-box;"></div>
<svg class="r" style="left:1314px;top:2163.9px;" width="19" height="13" viewBox="0 0 19 13"><path d="M9.5,0.5 C5.3,0.5 1.8,3 0.3,6.5 C1.8,10 5.3,12.5 9.5,12.5 C13.7,12.5 17.2,10 18.7,6.5 C17.2,3 13.7,0.5 9.5,0.5Z M9.5,10.6 A4.1,4.1 0 1 1 9.5,2.4 A4.1,4.1 0 1 1 9.5,10.6Z M9.5,4 A2.5,2.5 0 1 0 9.5,9 A2.5,2.5 0 1 0 9.5,4Z" fill="#3d6fb0" fill-rule="evenodd"/></svg>
<div class="r" style="left:111px;top:2208.5px;width:1253px;height:75.59999999999991px;background:#f2f2f2;"></div>
<div class="r" style="left:1110px;top:2229.5px;width:95.5px;height:24.0px;background:#f0a53c;border-radius:12px;"></div>
<div class="t" style="left:1119.71px;top:2233.10px;font-size:17px;color:#fff;font-weight:400;font-family:'Liberation Sans', Arial, sans-serif;letter-spacing:0.216px;-webkit-text-stroke:0.75px #fff;">16 van 17</div>
<div class="r" style="left:1298px;top:2221.8px;width:51px;height:47.19999999999982px;border:1.9px solid #4a7ab8;border-radius:6px;box-sizing:border-box;"></div>
<svg class="r" style="left:1314px;top:2239.5px;" width="19" height="13" viewBox="0 0 19 13"><path d="M9.5,0.5 C5.3,0.5 1.8,3 0.3,6.5 C1.8,10 5.3,12.5 9.5,12.5 C13.7,12.5 17.2,10 18.7,6.5 C17.2,3 13.7,0.5 9.5,0.5Z M9.5,10.6 A4.1,4.1 0 1 1 9.5,2.4 A4.1,4.1 0 1 1 9.5,10.6Z M9.5,4 A2.5,2.5 0 1 0 9.5,9 A2.5,2.5 0 1 0 9.5,4Z" fill="#3d6fb0" fill-rule="evenodd"/></svg>
<div class="r" style="left:111px;top:1527.6px;width:1253px;height:1.5px;background:#cbcbcb;"></div>
<div class="r" style="left:111px;top:1603.2px;width:1253px;height:1.5px;background:#cbcbcb;"></div>
<div class="r" style="left:111px;top:1678.7px;width:1253px;height:1.5px;background:#cbcbcb;"></div>
<div class="r" style="left:111px;top:1754.3px;width:1253px;height:1.5px;background:#cbcbcb;"></div>
<div class="r" style="left:111px;top:1829.8px;width:1253px;height:1.5px;background:#cbcbcb;"></div>
<div class="r" style="left:111px;top:1905.4px;width:1253px;height:1.5px;background:#cbcbcb;"></div>
<div class="r" style="left:111px;top:1980.9px;width:1253px;height:1.5px;background:#cbcbcb;"></div>
<div class="r" style="left:111px;top:2056.5px;width:1253px;height:1.5px;background:#cbcbcb;"></div>
<div class="r" style="left:111px;top:2132.1px;width:1253px;height:1.5px;background:#cbcbcb;"></div>
<div class="r" style="left:111px;top:2207.6px;width:1253px;height:1.5px;background:#cbcbcb;"></div>
<div class="r" style="left:111px;top:2283.2px;width:1253px;height:1.5px;background:#cbcbcb;"></div>
<div class="r" style="left:351.8px;top:2081px;width:0.8999999999999773px;height:15px;background:#a9c0e0;"></div>
<div class="r" style="left:0;top:0;width:2780px;height:2275px;border:1px solid #b9b9b9;border-radius:10px 10px 0 0;box-sizing:border-box;pointer-events:none;"></div>
<script>(function(){var w=window.innerWidth;if(w&&Math.abs(w-2780)>4){document.body.style.zoom=(w/2780);}})();</script>
</body></html>
